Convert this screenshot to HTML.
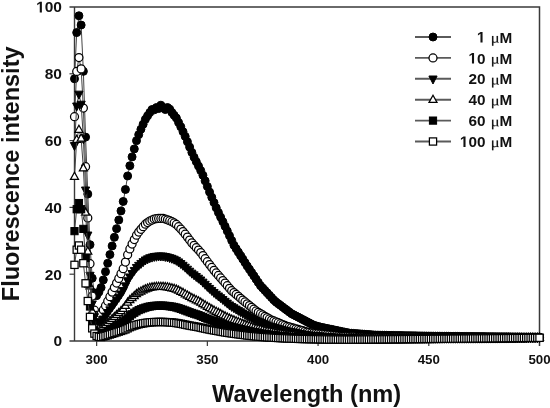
<!DOCTYPE html>
<html><head><meta charset="utf-8"><style>
html,body{margin:0;padding:0;background:#fff;}
body{width:550px;height:408px;overflow:hidden;position:relative;font-family:"Liberation Sans",sans-serif;}
svg{position:absolute;left:0;top:0;will-change:transform;}
.t{font-family:"Liberation Sans",sans-serif;font-weight:bold;fill:#111;}
.mu{font-family:"Liberation Serif",serif;font-weight:normal;font-size:16.5px;stroke:#111;stroke-width:0.4px;}
</style></head><body>
<svg width="550" height="408" viewBox="0 0 550 408">
<path d="M69.5 7.0H539.5V346.0" fill="none" stroke="#3a3a3a" stroke-width="1.5"/>
<path d="M74.5 7.0V341.0" fill="none" stroke="#3a3a3a" stroke-width="1.4"/>
<path d="M69.5 341.0H539.5" fill="none" stroke="#3a3a3a" stroke-width="1.6"/>
<path d="M69.5 274.20H74.5" stroke="#3a3a3a" stroke-width="1.2"/>
<path d="M69.5 207.40H74.5" stroke="#3a3a3a" stroke-width="1.2"/>
<path d="M69.5 140.60H74.5" stroke="#3a3a3a" stroke-width="1.2"/>
<path d="M69.5 73.80H74.5" stroke="#3a3a3a" stroke-width="1.2"/>
<path d="M96.64 341.0V346.0" stroke="#3a3a3a" stroke-width="1.2"/>
<path d="M207.36 341.0V346.0" stroke="#3a3a3a" stroke-width="1.2"/>
<path d="M318.07 341.0V346.0" stroke="#3a3a3a" stroke-width="1.2"/>
<path d="M428.79 341.0V346.0" stroke="#3a3a3a" stroke-width="1.2"/>
<g class="t" font-size="15.5" text-anchor="end">
<text x="62" y="346.4">0</text>
<text x="62" y="279.6">20</text>
<text x="62" y="212.8">40</text>
<text x="62" y="146.0">60</text>
<text x="62" y="79.2">80</text>
<text x="62" y="12.4"><tspan fill="transparent">1</tspan>00</text>
</g>
<g class="t" font-size="13.3" text-anchor="middle">
<text x="96.6" y="363.8">300</text>
<text x="207.4" y="363.8">350</text>
<text x="318.1" y="363.8">400</text>
<text x="428.8" y="363.8">450</text>
<text x="539.5" y="363.8">500</text>
</g>
<text class="t" font-size="23.6" x="306.6" y="401.7" text-anchor="middle">Wavelength (nm)</text>
<text class="t" font-size="23.5" transform="translate(18.9,173.8) rotate(-90)" text-anchor="middle">Fluorescence intensity</text>
<g><polyline points="74.50,78.81 76.71,32.59 78.93,15.78 81.14,25.04 83.36,71.36 85.57,137.12 87.79,194.05 90.00,244.66 92.21,278.21 94.43,292.88 96.64,295.63 98.86,292.08 101.07,287.58 103.29,279.95 105.50,271.70 107.71,263.25 109.93,254.60 112.14,245.96 114.36,237.31 116.57,228.67 118.79,220.03 121.00,210.89 123.21,201.46 125.43,189.49 127.64,175.94 129.86,165.72 132.07,156.88 134.29,148.92 136.50,140.64 138.71,134.64 140.93,129.24 143.14,124.28 145.36,119.35 147.57,115.87 149.79,112.55 152.00,109.54 154.21,109.87 156.43,107.53 158.64,108.54 160.86,105.20 163.07,107.53 165.29,109.54 167.50,107.53 169.71,109.20 171.93,112.51 174.14,115.29 176.36,118.04 178.57,122.46 180.79,126.80 183.00,131.63 185.21,136.40 187.43,141.77 189.64,147.11 191.86,152.42 194.07,157.28 196.29,161.69 198.50,166.10 200.71,170.50 202.93,175.27 205.14,180.87 207.36,186.47 209.57,192.08 211.79,197.33 214.00,202.58 216.21,207.83 218.43,212.60 220.64,217.15 222.86,221.70 225.07,226.33 227.29,231.05 229.50,235.78 231.71,240.51 233.93,245.24 236.14,248.70 238.36,252.17 240.57,255.64 242.79,259.10 245.00,262.57 247.21,266.04 249.43,269.31 251.64,272.59 253.86,275.86 256.07,279.13 258.29,282.41 260.50,285.68 262.71,288.07 264.93,290.45 267.14,292.83 269.36,295.21 271.57,297.59 273.79,299.98 276.00,302.00 278.21,303.66 280.43,305.33 282.64,306.99 284.86,308.66 287.07,310.32 289.29,311.99 291.50,313.65 293.71,314.81 295.93,315.96 298.14,317.12 300.36,318.27 302.57,319.43 304.79,320.58 307.00,321.74 309.21,322.89 311.43,324.05 313.64,325.21 315.86,325.82 318.07,326.44 320.29,327.05 322.50,327.52 324.71,327.98 326.93,328.44 329.14,328.90 331.36,329.37 333.57,329.83 335.79,330.29 338.00,330.75 340.21,331.22 342.43,331.68 344.64,332.14 346.86,332.60 349.07,333.06 351.29,333.23 353.50,333.40 355.71,333.57 357.93,333.73 360.14,333.90 362.36,334.07 364.57,334.24 366.79,334.40 369.00,334.57 371.21,334.74 373.43,334.91 375.64,335.07 377.86,335.12 380.07,335.16 382.29,335.20 384.50,335.24 386.71,335.29 388.93,335.33 391.14,335.37 393.36,335.41 395.57,335.46 397.79,335.50 400.00,335.54 402.21,335.58 404.43,335.63 406.64,335.67 408.86,335.71 411.07,335.75 413.29,335.79 415.50,335.84 417.71,335.88 419.93,335.92 422.14,335.96 424.36,336.01 426.57,336.05 428.79,336.09 431.00,336.11 433.21,336.13 435.43,336.16 437.64,336.18 439.86,336.20 442.07,336.22 444.29,336.24 446.50,336.26 448.71,336.28 450.93,336.30 453.14,336.32 455.36,336.35 457.57,336.37 459.79,336.39 462.00,336.41 464.21,336.43 466.43,336.45 468.64,336.47 470.86,336.49 473.07,336.52 475.29,336.54 477.50,336.56 479.71,336.58 481.93,336.60 484.14,336.62 486.36,336.64 488.57,336.66 490.79,336.68 493.00,336.71 495.21,336.73 497.43,336.75 499.64,336.77 501.86,336.79 504.07,336.81 506.29,336.83 508.50,336.85 510.71,336.88 512.93,336.90 515.14,336.92 517.36,336.94 519.57,336.96 521.79,336.98 524.00,337.00 526.21,337.02 528.43,337.04 530.64,337.07 532.86,337.09 535.07,337.11 537.29,337.13 539.50,337.15" fill="none" stroke="#444" stroke-width="1"/><circle cx="74.50" cy="78.81" r="4.00" fill="#000" stroke="#000" stroke-width="1.0"/><circle cx="76.71" cy="32.59" r="4.00" fill="#000" stroke="#000" stroke-width="1.0"/><circle cx="78.93" cy="15.78" r="4.00" fill="#000" stroke="#000" stroke-width="1.0"/><circle cx="81.14" cy="25.04" r="4.00" fill="#000" stroke="#000" stroke-width="1.0"/><circle cx="83.36" cy="71.36" r="4.00" fill="#000" stroke="#000" stroke-width="1.0"/><circle cx="85.57" cy="137.12" r="4.00" fill="#000" stroke="#000" stroke-width="1.0"/><circle cx="87.79" cy="194.05" r="4.00" fill="#000" stroke="#000" stroke-width="1.0"/><circle cx="90.00" cy="244.66" r="4.00" fill="#000" stroke="#000" stroke-width="1.0"/><circle cx="92.21" cy="278.21" r="4.00" fill="#000" stroke="#000" stroke-width="1.0"/><circle cx="94.43" cy="292.88" r="4.00" fill="#000" stroke="#000" stroke-width="1.0"/><circle cx="96.64" cy="295.63" r="4.00" fill="#000" stroke="#000" stroke-width="1.0"/><circle cx="98.86" cy="292.08" r="4.00" fill="#000" stroke="#000" stroke-width="1.0"/><circle cx="101.07" cy="287.58" r="4.00" fill="#000" stroke="#000" stroke-width="1.0"/><circle cx="103.29" cy="279.95" r="4.00" fill="#000" stroke="#000" stroke-width="1.0"/><circle cx="105.50" cy="271.70" r="4.00" fill="#000" stroke="#000" stroke-width="1.0"/><circle cx="107.71" cy="263.25" r="4.00" fill="#000" stroke="#000" stroke-width="1.0"/><circle cx="109.93" cy="254.60" r="4.00" fill="#000" stroke="#000" stroke-width="1.0"/><circle cx="112.14" cy="245.96" r="4.00" fill="#000" stroke="#000" stroke-width="1.0"/><circle cx="114.36" cy="237.31" r="4.00" fill="#000" stroke="#000" stroke-width="1.0"/><circle cx="116.57" cy="228.67" r="4.00" fill="#000" stroke="#000" stroke-width="1.0"/><circle cx="118.79" cy="220.03" r="4.00" fill="#000" stroke="#000" stroke-width="1.0"/><circle cx="121.00" cy="210.89" r="4.00" fill="#000" stroke="#000" stroke-width="1.0"/><circle cx="123.21" cy="201.46" r="4.00" fill="#000" stroke="#000" stroke-width="1.0"/><circle cx="125.43" cy="189.49" r="4.00" fill="#000" stroke="#000" stroke-width="1.0"/><circle cx="127.64" cy="175.94" r="4.00" fill="#000" stroke="#000" stroke-width="1.0"/><circle cx="129.86" cy="165.72" r="4.00" fill="#000" stroke="#000" stroke-width="1.0"/><circle cx="132.07" cy="156.88" r="4.00" fill="#000" stroke="#000" stroke-width="1.0"/><circle cx="134.29" cy="148.92" r="4.00" fill="#000" stroke="#000" stroke-width="1.0"/><circle cx="136.50" cy="140.64" r="4.00" fill="#000" stroke="#000" stroke-width="1.0"/><circle cx="138.71" cy="134.64" r="4.00" fill="#000" stroke="#000" stroke-width="1.0"/><circle cx="140.93" cy="129.24" r="4.00" fill="#000" stroke="#000" stroke-width="1.0"/><circle cx="143.14" cy="124.28" r="4.00" fill="#000" stroke="#000" stroke-width="1.0"/><circle cx="145.36" cy="119.35" r="4.00" fill="#000" stroke="#000" stroke-width="1.0"/><circle cx="147.57" cy="115.87" r="4.00" fill="#000" stroke="#000" stroke-width="1.0"/><circle cx="149.79" cy="112.55" r="4.00" fill="#000" stroke="#000" stroke-width="1.0"/><circle cx="152.00" cy="109.54" r="4.00" fill="#000" stroke="#000" stroke-width="1.0"/><circle cx="154.21" cy="109.87" r="4.00" fill="#000" stroke="#000" stroke-width="1.0"/><circle cx="156.43" cy="107.53" r="4.00" fill="#000" stroke="#000" stroke-width="1.0"/><circle cx="158.64" cy="108.54" r="4.00" fill="#000" stroke="#000" stroke-width="1.0"/><circle cx="160.86" cy="105.20" r="4.00" fill="#000" stroke="#000" stroke-width="1.0"/><circle cx="163.07" cy="107.53" r="4.00" fill="#000" stroke="#000" stroke-width="1.0"/><circle cx="165.29" cy="109.54" r="4.00" fill="#000" stroke="#000" stroke-width="1.0"/><circle cx="167.50" cy="107.53" r="4.00" fill="#000" stroke="#000" stroke-width="1.0"/><circle cx="169.71" cy="109.20" r="4.00" fill="#000" stroke="#000" stroke-width="1.0"/><circle cx="171.93" cy="112.51" r="4.00" fill="#000" stroke="#000" stroke-width="1.0"/><circle cx="174.14" cy="115.29" r="4.00" fill="#000" stroke="#000" stroke-width="1.0"/><circle cx="176.36" cy="118.04" r="4.00" fill="#000" stroke="#000" stroke-width="1.0"/><circle cx="178.57" cy="122.46" r="4.00" fill="#000" stroke="#000" stroke-width="1.0"/><circle cx="180.79" cy="126.80" r="4.00" fill="#000" stroke="#000" stroke-width="1.0"/><circle cx="183.00" cy="131.63" r="4.00" fill="#000" stroke="#000" stroke-width="1.0"/><circle cx="185.21" cy="136.40" r="4.00" fill="#000" stroke="#000" stroke-width="1.0"/><circle cx="187.43" cy="141.77" r="4.00" fill="#000" stroke="#000" stroke-width="1.0"/><circle cx="189.64" cy="147.11" r="4.00" fill="#000" stroke="#000" stroke-width="1.0"/><circle cx="191.86" cy="152.42" r="4.00" fill="#000" stroke="#000" stroke-width="1.0"/><circle cx="194.07" cy="157.28" r="4.00" fill="#000" stroke="#000" stroke-width="1.0"/><circle cx="196.29" cy="161.69" r="4.00" fill="#000" stroke="#000" stroke-width="1.0"/><circle cx="198.50" cy="166.10" r="4.00" fill="#000" stroke="#000" stroke-width="1.0"/><circle cx="200.71" cy="170.50" r="4.00" fill="#000" stroke="#000" stroke-width="1.0"/><circle cx="202.93" cy="175.27" r="4.00" fill="#000" stroke="#000" stroke-width="1.0"/><circle cx="205.14" cy="180.87" r="4.00" fill="#000" stroke="#000" stroke-width="1.0"/><circle cx="207.36" cy="186.47" r="4.00" fill="#000" stroke="#000" stroke-width="1.0"/><circle cx="209.57" cy="192.08" r="4.00" fill="#000" stroke="#000" stroke-width="1.0"/><circle cx="211.79" cy="197.33" r="4.00" fill="#000" stroke="#000" stroke-width="1.0"/><circle cx="214.00" cy="202.58" r="4.00" fill="#000" stroke="#000" stroke-width="1.0"/><circle cx="216.21" cy="207.83" r="4.00" fill="#000" stroke="#000" stroke-width="1.0"/><circle cx="218.43" cy="212.60" r="4.00" fill="#000" stroke="#000" stroke-width="1.0"/><circle cx="220.64" cy="217.15" r="4.00" fill="#000" stroke="#000" stroke-width="1.0"/><circle cx="222.86" cy="221.70" r="4.00" fill="#000" stroke="#000" stroke-width="1.0"/><circle cx="225.07" cy="226.33" r="4.00" fill="#000" stroke="#000" stroke-width="1.0"/><circle cx="227.29" cy="231.05" r="4.00" fill="#000" stroke="#000" stroke-width="1.0"/><circle cx="229.50" cy="235.78" r="4.00" fill="#000" stroke="#000" stroke-width="1.0"/><circle cx="231.71" cy="240.51" r="4.00" fill="#000" stroke="#000" stroke-width="1.0"/><circle cx="233.93" cy="245.24" r="4.00" fill="#000" stroke="#000" stroke-width="1.0"/><circle cx="236.14" cy="248.70" r="4.00" fill="#000" stroke="#000" stroke-width="1.0"/><circle cx="238.36" cy="252.17" r="4.00" fill="#000" stroke="#000" stroke-width="1.0"/><circle cx="240.57" cy="255.64" r="4.00" fill="#000" stroke="#000" stroke-width="1.0"/><circle cx="242.79" cy="259.10" r="4.00" fill="#000" stroke="#000" stroke-width="1.0"/><circle cx="245.00" cy="262.57" r="4.00" fill="#000" stroke="#000" stroke-width="1.0"/><circle cx="247.21" cy="266.04" r="4.00" fill="#000" stroke="#000" stroke-width="1.0"/><circle cx="249.43" cy="269.31" r="4.00" fill="#000" stroke="#000" stroke-width="1.0"/><circle cx="251.64" cy="272.59" r="4.00" fill="#000" stroke="#000" stroke-width="1.0"/><circle cx="253.86" cy="275.86" r="4.00" fill="#000" stroke="#000" stroke-width="1.0"/><circle cx="256.07" cy="279.13" r="4.00" fill="#000" stroke="#000" stroke-width="1.0"/><circle cx="258.29" cy="282.41" r="4.00" fill="#000" stroke="#000" stroke-width="1.0"/><circle cx="260.50" cy="285.68" r="4.00" fill="#000" stroke="#000" stroke-width="1.0"/><circle cx="262.71" cy="288.07" r="4.00" fill="#000" stroke="#000" stroke-width="1.0"/><circle cx="264.93" cy="290.45" r="4.00" fill="#000" stroke="#000" stroke-width="1.0"/><circle cx="267.14" cy="292.83" r="4.00" fill="#000" stroke="#000" stroke-width="1.0"/><circle cx="269.36" cy="295.21" r="4.00" fill="#000" stroke="#000" stroke-width="1.0"/><circle cx="271.57" cy="297.59" r="4.00" fill="#000" stroke="#000" stroke-width="1.0"/><circle cx="273.79" cy="299.98" r="4.00" fill="#000" stroke="#000" stroke-width="1.0"/><circle cx="276.00" cy="302.00" r="4.00" fill="#000" stroke="#000" stroke-width="1.0"/><circle cx="278.21" cy="303.66" r="4.00" fill="#000" stroke="#000" stroke-width="1.0"/><circle cx="280.43" cy="305.33" r="4.00" fill="#000" stroke="#000" stroke-width="1.0"/><circle cx="282.64" cy="306.99" r="4.00" fill="#000" stroke="#000" stroke-width="1.0"/><circle cx="284.86" cy="308.66" r="4.00" fill="#000" stroke="#000" stroke-width="1.0"/><circle cx="287.07" cy="310.32" r="4.00" fill="#000" stroke="#000" stroke-width="1.0"/><circle cx="289.29" cy="311.99" r="4.00" fill="#000" stroke="#000" stroke-width="1.0"/><circle cx="291.50" cy="313.65" r="4.00" fill="#000" stroke="#000" stroke-width="1.0"/><circle cx="293.71" cy="314.81" r="4.00" fill="#000" stroke="#000" stroke-width="1.0"/><circle cx="295.93" cy="315.96" r="4.00" fill="#000" stroke="#000" stroke-width="1.0"/><circle cx="298.14" cy="317.12" r="4.00" fill="#000" stroke="#000" stroke-width="1.0"/><circle cx="300.36" cy="318.27" r="4.00" fill="#000" stroke="#000" stroke-width="1.0"/><circle cx="302.57" cy="319.43" r="4.00" fill="#000" stroke="#000" stroke-width="1.0"/><circle cx="304.79" cy="320.58" r="4.00" fill="#000" stroke="#000" stroke-width="1.0"/><circle cx="307.00" cy="321.74" r="4.00" fill="#000" stroke="#000" stroke-width="1.0"/><circle cx="309.21" cy="322.89" r="4.00" fill="#000" stroke="#000" stroke-width="1.0"/><circle cx="311.43" cy="324.05" r="4.00" fill="#000" stroke="#000" stroke-width="1.0"/><circle cx="313.64" cy="325.21" r="4.00" fill="#000" stroke="#000" stroke-width="1.0"/><circle cx="315.86" cy="325.82" r="4.00" fill="#000" stroke="#000" stroke-width="1.0"/><circle cx="318.07" cy="326.44" r="4.00" fill="#000" stroke="#000" stroke-width="1.0"/><circle cx="320.29" cy="327.05" r="4.00" fill="#000" stroke="#000" stroke-width="1.0"/><circle cx="322.50" cy="327.52" r="4.00" fill="#000" stroke="#000" stroke-width="1.0"/><circle cx="324.71" cy="327.98" r="4.00" fill="#000" stroke="#000" stroke-width="1.0"/><circle cx="326.93" cy="328.44" r="4.00" fill="#000" stroke="#000" stroke-width="1.0"/><circle cx="329.14" cy="328.90" r="4.00" fill="#000" stroke="#000" stroke-width="1.0"/><circle cx="331.36" cy="329.37" r="4.00" fill="#000" stroke="#000" stroke-width="1.0"/><circle cx="333.57" cy="329.83" r="4.00" fill="#000" stroke="#000" stroke-width="1.0"/><circle cx="335.79" cy="330.29" r="4.00" fill="#000" stroke="#000" stroke-width="1.0"/><circle cx="338.00" cy="330.75" r="4.00" fill="#000" stroke="#000" stroke-width="1.0"/><circle cx="340.21" cy="331.22" r="4.00" fill="#000" stroke="#000" stroke-width="1.0"/><circle cx="342.43" cy="331.68" r="4.00" fill="#000" stroke="#000" stroke-width="1.0"/><circle cx="344.64" cy="332.14" r="4.00" fill="#000" stroke="#000" stroke-width="1.0"/><circle cx="346.86" cy="332.60" r="4.00" fill="#000" stroke="#000" stroke-width="1.0"/><circle cx="349.07" cy="333.06" r="4.00" fill="#000" stroke="#000" stroke-width="1.0"/><circle cx="351.29" cy="333.23" r="4.00" fill="#000" stroke="#000" stroke-width="1.0"/><circle cx="353.50" cy="333.40" r="4.00" fill="#000" stroke="#000" stroke-width="1.0"/><circle cx="355.71" cy="333.57" r="4.00" fill="#000" stroke="#000" stroke-width="1.0"/><circle cx="357.93" cy="333.73" r="4.00" fill="#000" stroke="#000" stroke-width="1.0"/><circle cx="360.14" cy="333.90" r="4.00" fill="#000" stroke="#000" stroke-width="1.0"/><circle cx="362.36" cy="334.07" r="4.00" fill="#000" stroke="#000" stroke-width="1.0"/><circle cx="364.57" cy="334.24" r="4.00" fill="#000" stroke="#000" stroke-width="1.0"/><circle cx="366.79" cy="334.40" r="4.00" fill="#000" stroke="#000" stroke-width="1.0"/><circle cx="369.00" cy="334.57" r="4.00" fill="#000" stroke="#000" stroke-width="1.0"/><circle cx="371.21" cy="334.74" r="4.00" fill="#000" stroke="#000" stroke-width="1.0"/><circle cx="373.43" cy="334.91" r="4.00" fill="#000" stroke="#000" stroke-width="1.0"/><circle cx="375.64" cy="335.07" r="4.00" fill="#000" stroke="#000" stroke-width="1.0"/><circle cx="377.86" cy="335.12" r="4.00" fill="#000" stroke="#000" stroke-width="1.0"/><circle cx="380.07" cy="335.16" r="4.00" fill="#000" stroke="#000" stroke-width="1.0"/><circle cx="382.29" cy="335.20" r="4.00" fill="#000" stroke="#000" stroke-width="1.0"/><circle cx="384.50" cy="335.24" r="4.00" fill="#000" stroke="#000" stroke-width="1.0"/><circle cx="386.71" cy="335.29" r="4.00" fill="#000" stroke="#000" stroke-width="1.0"/><circle cx="388.93" cy="335.33" r="4.00" fill="#000" stroke="#000" stroke-width="1.0"/><circle cx="391.14" cy="335.37" r="4.00" fill="#000" stroke="#000" stroke-width="1.0"/><circle cx="393.36" cy="335.41" r="4.00" fill="#000" stroke="#000" stroke-width="1.0"/><circle cx="395.57" cy="335.46" r="4.00" fill="#000" stroke="#000" stroke-width="1.0"/><circle cx="397.79" cy="335.50" r="4.00" fill="#000" stroke="#000" stroke-width="1.0"/><circle cx="400.00" cy="335.54" r="4.00" fill="#000" stroke="#000" stroke-width="1.0"/><circle cx="402.21" cy="335.58" r="4.00" fill="#000" stroke="#000" stroke-width="1.0"/><circle cx="404.43" cy="335.63" r="4.00" fill="#000" stroke="#000" stroke-width="1.0"/><circle cx="406.64" cy="335.67" r="4.00" fill="#000" stroke="#000" stroke-width="1.0"/><circle cx="408.86" cy="335.71" r="4.00" fill="#000" stroke="#000" stroke-width="1.0"/><circle cx="411.07" cy="335.75" r="4.00" fill="#000" stroke="#000" stroke-width="1.0"/><circle cx="413.29" cy="335.79" r="4.00" fill="#000" stroke="#000" stroke-width="1.0"/><circle cx="415.50" cy="335.84" r="4.00" fill="#000" stroke="#000" stroke-width="1.0"/><circle cx="417.71" cy="335.88" r="4.00" fill="#000" stroke="#000" stroke-width="1.0"/><circle cx="419.93" cy="335.92" r="4.00" fill="#000" stroke="#000" stroke-width="1.0"/><circle cx="422.14" cy="335.96" r="4.00" fill="#000" stroke="#000" stroke-width="1.0"/><circle cx="424.36" cy="336.01" r="4.00" fill="#000" stroke="#000" stroke-width="1.0"/><circle cx="426.57" cy="336.05" r="4.00" fill="#000" stroke="#000" stroke-width="1.0"/><circle cx="428.79" cy="336.09" r="4.00" fill="#000" stroke="#000" stroke-width="1.0"/><circle cx="431.00" cy="336.11" r="4.00" fill="#000" stroke="#000" stroke-width="1.0"/><circle cx="433.21" cy="336.13" r="4.00" fill="#000" stroke="#000" stroke-width="1.0"/><circle cx="435.43" cy="336.16" r="4.00" fill="#000" stroke="#000" stroke-width="1.0"/><circle cx="437.64" cy="336.18" r="4.00" fill="#000" stroke="#000" stroke-width="1.0"/><circle cx="439.86" cy="336.20" r="4.00" fill="#000" stroke="#000" stroke-width="1.0"/><circle cx="442.07" cy="336.22" r="4.00" fill="#000" stroke="#000" stroke-width="1.0"/><circle cx="444.29" cy="336.24" r="4.00" fill="#000" stroke="#000" stroke-width="1.0"/><circle cx="446.50" cy="336.26" r="4.00" fill="#000" stroke="#000" stroke-width="1.0"/><circle cx="448.71" cy="336.28" r="4.00" fill="#000" stroke="#000" stroke-width="1.0"/><circle cx="450.93" cy="336.30" r="4.00" fill="#000" stroke="#000" stroke-width="1.0"/><circle cx="453.14" cy="336.32" r="4.00" fill="#000" stroke="#000" stroke-width="1.0"/><circle cx="455.36" cy="336.35" r="4.00" fill="#000" stroke="#000" stroke-width="1.0"/><circle cx="457.57" cy="336.37" r="4.00" fill="#000" stroke="#000" stroke-width="1.0"/><circle cx="459.79" cy="336.39" r="4.00" fill="#000" stroke="#000" stroke-width="1.0"/><circle cx="462.00" cy="336.41" r="4.00" fill="#000" stroke="#000" stroke-width="1.0"/><circle cx="464.21" cy="336.43" r="4.00" fill="#000" stroke="#000" stroke-width="1.0"/><circle cx="466.43" cy="336.45" r="4.00" fill="#000" stroke="#000" stroke-width="1.0"/><circle cx="468.64" cy="336.47" r="4.00" fill="#000" stroke="#000" stroke-width="1.0"/><circle cx="470.86" cy="336.49" r="4.00" fill="#000" stroke="#000" stroke-width="1.0"/><circle cx="473.07" cy="336.52" r="4.00" fill="#000" stroke="#000" stroke-width="1.0"/><circle cx="475.29" cy="336.54" r="4.00" fill="#000" stroke="#000" stroke-width="1.0"/><circle cx="477.50" cy="336.56" r="4.00" fill="#000" stroke="#000" stroke-width="1.0"/><circle cx="479.71" cy="336.58" r="4.00" fill="#000" stroke="#000" stroke-width="1.0"/><circle cx="481.93" cy="336.60" r="4.00" fill="#000" stroke="#000" stroke-width="1.0"/><circle cx="484.14" cy="336.62" r="4.00" fill="#000" stroke="#000" stroke-width="1.0"/><circle cx="486.36" cy="336.64" r="4.00" fill="#000" stroke="#000" stroke-width="1.0"/><circle cx="488.57" cy="336.66" r="4.00" fill="#000" stroke="#000" stroke-width="1.0"/><circle cx="490.79" cy="336.68" r="4.00" fill="#000" stroke="#000" stroke-width="1.0"/><circle cx="493.00" cy="336.71" r="4.00" fill="#000" stroke="#000" stroke-width="1.0"/><circle cx="495.21" cy="336.73" r="4.00" fill="#000" stroke="#000" stroke-width="1.0"/><circle cx="497.43" cy="336.75" r="4.00" fill="#000" stroke="#000" stroke-width="1.0"/><circle cx="499.64" cy="336.77" r="4.00" fill="#000" stroke="#000" stroke-width="1.0"/><circle cx="501.86" cy="336.79" r="4.00" fill="#000" stroke="#000" stroke-width="1.0"/><circle cx="504.07" cy="336.81" r="4.00" fill="#000" stroke="#000" stroke-width="1.0"/><circle cx="506.29" cy="336.83" r="4.00" fill="#000" stroke="#000" stroke-width="1.0"/><circle cx="508.50" cy="336.85" r="4.00" fill="#000" stroke="#000" stroke-width="1.0"/><circle cx="510.71" cy="336.88" r="4.00" fill="#000" stroke="#000" stroke-width="1.0"/><circle cx="512.93" cy="336.90" r="4.00" fill="#000" stroke="#000" stroke-width="1.0"/><circle cx="515.14" cy="336.92" r="4.00" fill="#000" stroke="#000" stroke-width="1.0"/><circle cx="517.36" cy="336.94" r="4.00" fill="#000" stroke="#000" stroke-width="1.0"/><circle cx="519.57" cy="336.96" r="4.00" fill="#000" stroke="#000" stroke-width="1.0"/><circle cx="521.79" cy="336.98" r="4.00" fill="#000" stroke="#000" stroke-width="1.0"/><circle cx="524.00" cy="337.00" r="4.00" fill="#000" stroke="#000" stroke-width="1.0"/><circle cx="526.21" cy="337.02" r="4.00" fill="#000" stroke="#000" stroke-width="1.0"/><circle cx="528.43" cy="337.04" r="4.00" fill="#000" stroke="#000" stroke-width="1.0"/><circle cx="530.64" cy="337.07" r="4.00" fill="#000" stroke="#000" stroke-width="1.0"/><circle cx="532.86" cy="337.09" r="4.00" fill="#000" stroke="#000" stroke-width="1.0"/><circle cx="535.07" cy="337.11" r="4.00" fill="#000" stroke="#000" stroke-width="1.0"/><circle cx="537.29" cy="337.13" r="4.00" fill="#000" stroke="#000" stroke-width="1.0"/><circle cx="539.50" cy="337.15" r="4.00" fill="#000" stroke="#000" stroke-width="1.0"/></g>
<g><polyline points="74.50,116.69 76.71,71.45 78.93,57.57 81.14,68.89 83.36,108.07 85.57,166.71 87.79,217.91 90.00,263.67 92.21,296.02 94.43,310.15 96.64,315.48 98.86,315.48 101.07,314.01 103.29,309.99 105.50,305.65 107.71,301.21 109.93,296.66 112.14,292.11 114.36,287.57 116.57,283.02 118.79,278.47 121.00,273.67 123.21,268.71 125.43,262.09 127.64,254.65 129.86,248.96 132.07,244.00 134.29,239.50 136.50,235.16 138.71,232.04 140.93,229.25 143.14,226.71 145.36,224.23 147.57,222.56 149.79,221.01 152.00,220.01 154.21,219.08 156.43,218.74 158.64,218.43 160.86,218.42 163.07,218.45 165.29,219.08 167.50,219.75 169.71,220.70 171.93,221.70 174.14,222.97 176.36,224.49 178.57,226.70 180.79,229.02 183.00,231.55 185.21,234.23 187.43,237.12 189.64,240.01 191.86,242.88 194.07,245.28 196.29,247.69 198.50,250.10 200.71,252.52 202.93,255.59 205.14,258.65 207.36,261.72 209.57,264.62 211.79,267.49 214.00,270.37 216.21,272.98 218.43,275.47 220.64,277.96 222.86,280.50 225.07,283.09 227.29,285.68 229.50,288.26 231.71,290.66 233.93,292.56 236.14,294.46 238.36,296.35 240.57,298.25 242.79,300.15 245.00,301.99 247.21,303.78 249.43,305.57 251.64,307.36 253.86,309.15 256.07,310.95 258.29,312.38 260.50,313.68 262.71,314.99 264.93,316.29 267.14,317.59 269.36,318.90 271.57,320.01 273.79,320.92 276.00,321.83 278.21,322.74 280.43,323.65 282.64,324.56 284.86,325.47 287.07,326.31 289.29,326.94 291.50,327.57 293.71,328.21 295.93,328.84 298.14,329.47 300.36,330.10 302.57,330.73 304.79,331.37 307.00,332.00 309.21,332.44 311.43,332.77 313.64,333.11 315.86,333.38 318.07,333.64 320.29,333.89 322.50,334.14 324.71,334.40 326.93,334.65 329.14,334.90 331.36,335.15 333.57,335.41 335.79,335.66 338.00,335.91 340.21,336.17 342.43,336.38 344.64,336.48 346.86,336.59 349.07,336.70 351.29,336.78 353.50,336.86 355.71,336.94 357.93,337.02 360.14,337.10 362.36,337.18 364.57,337.26 366.79,337.34 369.00,337.37 371.21,337.38 373.43,337.39 375.64,337.40 377.86,337.42 380.07,337.43 382.29,337.44 384.50,337.45 386.71,337.46 388.93,337.47 391.14,337.49 393.36,337.50 395.57,337.51 397.79,337.52 400.00,337.53 402.21,337.55 404.43,337.56 406.64,337.57 408.86,337.58 411.07,337.59 413.29,337.60 415.50,337.62 417.71,337.63 419.93,337.63 422.14,337.63 424.36,337.63 426.57,337.63 428.79,337.63 431.00,337.63 433.21,337.63 435.43,337.63 437.64,337.63 439.86,337.63 442.07,337.63 444.29,337.64 446.50,337.64 448.71,337.64 450.93,337.64 453.14,337.64 455.36,337.64 457.57,337.64 459.79,337.64 462.00,337.64 464.21,337.64 466.43,337.64 468.64,337.64 470.86,337.64 473.07,337.64 475.29,337.64 477.50,337.64 479.71,337.64 481.93,337.64 484.14,337.64 486.36,337.64 488.57,337.64 490.79,337.64 493.00,337.64 495.21,337.64 497.43,337.64 499.64,337.64 501.86,337.64 504.07,337.64 506.29,337.64 508.50,337.64 510.71,337.64 512.93,337.64 515.14,337.64 517.36,337.64 519.57,337.64 521.79,337.64 524.00,337.64 526.21,337.63 528.43,337.60 530.64,337.58 532.86,337.55 535.07,337.53 537.29,337.50 539.50,337.48" fill="none" stroke="#444" stroke-width="1"/><circle cx="74.50" cy="116.69" r="4.00" fill="#fff" stroke="#000" stroke-width="1.25"/><circle cx="76.71" cy="71.45" r="4.00" fill="#fff" stroke="#000" stroke-width="1.25"/><circle cx="78.93" cy="57.57" r="4.00" fill="#fff" stroke="#000" stroke-width="1.25"/><circle cx="81.14" cy="68.89" r="4.00" fill="#fff" stroke="#000" stroke-width="1.25"/><circle cx="83.36" cy="108.07" r="4.00" fill="#fff" stroke="#000" stroke-width="1.25"/><circle cx="85.57" cy="166.71" r="4.00" fill="#fff" stroke="#000" stroke-width="1.25"/><circle cx="87.79" cy="217.91" r="4.00" fill="#fff" stroke="#000" stroke-width="1.25"/><circle cx="90.00" cy="263.67" r="4.00" fill="#fff" stroke="#000" stroke-width="1.25"/><circle cx="92.21" cy="296.02" r="4.00" fill="#fff" stroke="#000" stroke-width="1.25"/><circle cx="94.43" cy="310.15" r="4.00" fill="#fff" stroke="#000" stroke-width="1.25"/><circle cx="96.64" cy="315.48" r="4.00" fill="#fff" stroke="#000" stroke-width="1.25"/><circle cx="98.86" cy="315.48" r="4.00" fill="#fff" stroke="#000" stroke-width="1.25"/><circle cx="101.07" cy="314.01" r="4.00" fill="#fff" stroke="#000" stroke-width="1.25"/><circle cx="103.29" cy="309.99" r="4.00" fill="#fff" stroke="#000" stroke-width="1.25"/><circle cx="105.50" cy="305.65" r="4.00" fill="#fff" stroke="#000" stroke-width="1.25"/><circle cx="107.71" cy="301.21" r="4.00" fill="#fff" stroke="#000" stroke-width="1.25"/><circle cx="109.93" cy="296.66" r="4.00" fill="#fff" stroke="#000" stroke-width="1.25"/><circle cx="112.14" cy="292.11" r="4.00" fill="#fff" stroke="#000" stroke-width="1.25"/><circle cx="114.36" cy="287.57" r="4.00" fill="#fff" stroke="#000" stroke-width="1.25"/><circle cx="116.57" cy="283.02" r="4.00" fill="#fff" stroke="#000" stroke-width="1.25"/><circle cx="118.79" cy="278.47" r="4.00" fill="#fff" stroke="#000" stroke-width="1.25"/><circle cx="121.00" cy="273.67" r="4.00" fill="#fff" stroke="#000" stroke-width="1.25"/><circle cx="123.21" cy="268.71" r="4.00" fill="#fff" stroke="#000" stroke-width="1.25"/><circle cx="125.43" cy="262.09" r="4.00" fill="#fff" stroke="#000" stroke-width="1.25"/><circle cx="127.64" cy="254.65" r="4.00" fill="#fff" stroke="#000" stroke-width="1.25"/><circle cx="129.86" cy="248.96" r="4.00" fill="#fff" stroke="#000" stroke-width="1.25"/><circle cx="132.07" cy="244.00" r="4.00" fill="#fff" stroke="#000" stroke-width="1.25"/><circle cx="134.29" cy="239.50" r="4.00" fill="#fff" stroke="#000" stroke-width="1.25"/><circle cx="136.50" cy="235.16" r="4.00" fill="#fff" stroke="#000" stroke-width="1.25"/><circle cx="138.71" cy="232.04" r="4.00" fill="#fff" stroke="#000" stroke-width="1.25"/><circle cx="140.93" cy="229.25" r="4.00" fill="#fff" stroke="#000" stroke-width="1.25"/><circle cx="143.14" cy="226.71" r="4.00" fill="#fff" stroke="#000" stroke-width="1.25"/><circle cx="145.36" cy="224.23" r="4.00" fill="#fff" stroke="#000" stroke-width="1.25"/><circle cx="147.57" cy="222.56" r="4.00" fill="#fff" stroke="#000" stroke-width="1.25"/><circle cx="149.79" cy="221.01" r="4.00" fill="#fff" stroke="#000" stroke-width="1.25"/><circle cx="152.00" cy="220.01" r="4.00" fill="#fff" stroke="#000" stroke-width="1.25"/><circle cx="154.21" cy="219.08" r="4.00" fill="#fff" stroke="#000" stroke-width="1.25"/><circle cx="156.43" cy="218.74" r="4.00" fill="#fff" stroke="#000" stroke-width="1.25"/><circle cx="158.64" cy="218.43" r="4.00" fill="#fff" stroke="#000" stroke-width="1.25"/><circle cx="160.86" cy="218.42" r="4.00" fill="#fff" stroke="#000" stroke-width="1.25"/><circle cx="163.07" cy="218.45" r="4.00" fill="#fff" stroke="#000" stroke-width="1.25"/><circle cx="165.29" cy="219.08" r="4.00" fill="#fff" stroke="#000" stroke-width="1.25"/><circle cx="167.50" cy="219.75" r="4.00" fill="#fff" stroke="#000" stroke-width="1.25"/><circle cx="169.71" cy="220.70" r="4.00" fill="#fff" stroke="#000" stroke-width="1.25"/><circle cx="171.93" cy="221.70" r="4.00" fill="#fff" stroke="#000" stroke-width="1.25"/><circle cx="174.14" cy="222.97" r="4.00" fill="#fff" stroke="#000" stroke-width="1.25"/><circle cx="176.36" cy="224.49" r="4.00" fill="#fff" stroke="#000" stroke-width="1.25"/><circle cx="178.57" cy="226.70" r="4.00" fill="#fff" stroke="#000" stroke-width="1.25"/><circle cx="180.79" cy="229.02" r="4.00" fill="#fff" stroke="#000" stroke-width="1.25"/><circle cx="183.00" cy="231.55" r="4.00" fill="#fff" stroke="#000" stroke-width="1.25"/><circle cx="185.21" cy="234.23" r="4.00" fill="#fff" stroke="#000" stroke-width="1.25"/><circle cx="187.43" cy="237.12" r="4.00" fill="#fff" stroke="#000" stroke-width="1.25"/><circle cx="189.64" cy="240.01" r="4.00" fill="#fff" stroke="#000" stroke-width="1.25"/><circle cx="191.86" cy="242.88" r="4.00" fill="#fff" stroke="#000" stroke-width="1.25"/><circle cx="194.07" cy="245.28" r="4.00" fill="#fff" stroke="#000" stroke-width="1.25"/><circle cx="196.29" cy="247.69" r="4.00" fill="#fff" stroke="#000" stroke-width="1.25"/><circle cx="198.50" cy="250.10" r="4.00" fill="#fff" stroke="#000" stroke-width="1.25"/><circle cx="200.71" cy="252.52" r="4.00" fill="#fff" stroke="#000" stroke-width="1.25"/><circle cx="202.93" cy="255.59" r="4.00" fill="#fff" stroke="#000" stroke-width="1.25"/><circle cx="205.14" cy="258.65" r="4.00" fill="#fff" stroke="#000" stroke-width="1.25"/><circle cx="207.36" cy="261.72" r="4.00" fill="#fff" stroke="#000" stroke-width="1.25"/><circle cx="209.57" cy="264.62" r="4.00" fill="#fff" stroke="#000" stroke-width="1.25"/><circle cx="211.79" cy="267.49" r="4.00" fill="#fff" stroke="#000" stroke-width="1.25"/><circle cx="214.00" cy="270.37" r="4.00" fill="#fff" stroke="#000" stroke-width="1.25"/><circle cx="216.21" cy="272.98" r="4.00" fill="#fff" stroke="#000" stroke-width="1.25"/><circle cx="218.43" cy="275.47" r="4.00" fill="#fff" stroke="#000" stroke-width="1.25"/><circle cx="220.64" cy="277.96" r="4.00" fill="#fff" stroke="#000" stroke-width="1.25"/><circle cx="222.86" cy="280.50" r="4.00" fill="#fff" stroke="#000" stroke-width="1.25"/><circle cx="225.07" cy="283.09" r="4.00" fill="#fff" stroke="#000" stroke-width="1.25"/><circle cx="227.29" cy="285.68" r="4.00" fill="#fff" stroke="#000" stroke-width="1.25"/><circle cx="229.50" cy="288.26" r="4.00" fill="#fff" stroke="#000" stroke-width="1.25"/><circle cx="231.71" cy="290.66" r="4.00" fill="#fff" stroke="#000" stroke-width="1.25"/><circle cx="233.93" cy="292.56" r="4.00" fill="#fff" stroke="#000" stroke-width="1.25"/><circle cx="236.14" cy="294.46" r="4.00" fill="#fff" stroke="#000" stroke-width="1.25"/><circle cx="238.36" cy="296.35" r="4.00" fill="#fff" stroke="#000" stroke-width="1.25"/><circle cx="240.57" cy="298.25" r="4.00" fill="#fff" stroke="#000" stroke-width="1.25"/><circle cx="242.79" cy="300.15" r="4.00" fill="#fff" stroke="#000" stroke-width="1.25"/><circle cx="245.00" cy="301.99" r="4.00" fill="#fff" stroke="#000" stroke-width="1.25"/><circle cx="247.21" cy="303.78" r="4.00" fill="#fff" stroke="#000" stroke-width="1.25"/><circle cx="249.43" cy="305.57" r="4.00" fill="#fff" stroke="#000" stroke-width="1.25"/><circle cx="251.64" cy="307.36" r="4.00" fill="#fff" stroke="#000" stroke-width="1.25"/><circle cx="253.86" cy="309.15" r="4.00" fill="#fff" stroke="#000" stroke-width="1.25"/><circle cx="256.07" cy="310.95" r="4.00" fill="#fff" stroke="#000" stroke-width="1.25"/><circle cx="258.29" cy="312.38" r="4.00" fill="#fff" stroke="#000" stroke-width="1.25"/><circle cx="260.50" cy="313.68" r="4.00" fill="#fff" stroke="#000" stroke-width="1.25"/><circle cx="262.71" cy="314.99" r="4.00" fill="#fff" stroke="#000" stroke-width="1.25"/><circle cx="264.93" cy="316.29" r="4.00" fill="#fff" stroke="#000" stroke-width="1.25"/><circle cx="267.14" cy="317.59" r="4.00" fill="#fff" stroke="#000" stroke-width="1.25"/><circle cx="269.36" cy="318.90" r="4.00" fill="#fff" stroke="#000" stroke-width="1.25"/><circle cx="271.57" cy="320.01" r="4.00" fill="#fff" stroke="#000" stroke-width="1.25"/><circle cx="273.79" cy="320.92" r="4.00" fill="#fff" stroke="#000" stroke-width="1.25"/><circle cx="276.00" cy="321.83" r="4.00" fill="#fff" stroke="#000" stroke-width="1.25"/><circle cx="278.21" cy="322.74" r="4.00" fill="#fff" stroke="#000" stroke-width="1.25"/><circle cx="280.43" cy="323.65" r="4.00" fill="#fff" stroke="#000" stroke-width="1.25"/><circle cx="282.64" cy="324.56" r="4.00" fill="#fff" stroke="#000" stroke-width="1.25"/><circle cx="284.86" cy="325.47" r="4.00" fill="#fff" stroke="#000" stroke-width="1.25"/><circle cx="287.07" cy="326.31" r="4.00" fill="#fff" stroke="#000" stroke-width="1.25"/><circle cx="289.29" cy="326.94" r="4.00" fill="#fff" stroke="#000" stroke-width="1.25"/><circle cx="291.50" cy="327.57" r="4.00" fill="#fff" stroke="#000" stroke-width="1.25"/><circle cx="293.71" cy="328.21" r="4.00" fill="#fff" stroke="#000" stroke-width="1.25"/><circle cx="295.93" cy="328.84" r="4.00" fill="#fff" stroke="#000" stroke-width="1.25"/><circle cx="298.14" cy="329.47" r="4.00" fill="#fff" stroke="#000" stroke-width="1.25"/><circle cx="300.36" cy="330.10" r="4.00" fill="#fff" stroke="#000" stroke-width="1.25"/><circle cx="302.57" cy="330.73" r="4.00" fill="#fff" stroke="#000" stroke-width="1.25"/><circle cx="304.79" cy="331.37" r="4.00" fill="#fff" stroke="#000" stroke-width="1.25"/><circle cx="307.00" cy="332.00" r="4.00" fill="#fff" stroke="#000" stroke-width="1.25"/><circle cx="309.21" cy="332.44" r="4.00" fill="#fff" stroke="#000" stroke-width="1.25"/><circle cx="311.43" cy="332.77" r="4.00" fill="#fff" stroke="#000" stroke-width="1.25"/><circle cx="313.64" cy="333.11" r="4.00" fill="#fff" stroke="#000" stroke-width="1.25"/><circle cx="315.86" cy="333.38" r="4.00" fill="#fff" stroke="#000" stroke-width="1.25"/><circle cx="318.07" cy="333.64" r="4.00" fill="#fff" stroke="#000" stroke-width="1.25"/><circle cx="320.29" cy="333.89" r="4.00" fill="#fff" stroke="#000" stroke-width="1.25"/><circle cx="322.50" cy="334.14" r="4.00" fill="#fff" stroke="#000" stroke-width="1.25"/><circle cx="324.71" cy="334.40" r="4.00" fill="#fff" stroke="#000" stroke-width="1.25"/><circle cx="326.93" cy="334.65" r="4.00" fill="#fff" stroke="#000" stroke-width="1.25"/><circle cx="329.14" cy="334.90" r="4.00" fill="#fff" stroke="#000" stroke-width="1.25"/><circle cx="331.36" cy="335.15" r="4.00" fill="#fff" stroke="#000" stroke-width="1.25"/><circle cx="333.57" cy="335.41" r="4.00" fill="#fff" stroke="#000" stroke-width="1.25"/><circle cx="335.79" cy="335.66" r="4.00" fill="#fff" stroke="#000" stroke-width="1.25"/><circle cx="338.00" cy="335.91" r="4.00" fill="#fff" stroke="#000" stroke-width="1.25"/><circle cx="340.21" cy="336.17" r="4.00" fill="#fff" stroke="#000" stroke-width="1.25"/><circle cx="342.43" cy="336.38" r="4.00" fill="#fff" stroke="#000" stroke-width="1.25"/><circle cx="344.64" cy="336.48" r="4.00" fill="#fff" stroke="#000" stroke-width="1.25"/><circle cx="346.86" cy="336.59" r="4.00" fill="#fff" stroke="#000" stroke-width="1.25"/><circle cx="349.07" cy="336.70" r="4.00" fill="#fff" stroke="#000" stroke-width="1.25"/><circle cx="351.29" cy="336.78" r="4.00" fill="#fff" stroke="#000" stroke-width="1.25"/><circle cx="353.50" cy="336.86" r="4.00" fill="#fff" stroke="#000" stroke-width="1.25"/><circle cx="355.71" cy="336.94" r="4.00" fill="#fff" stroke="#000" stroke-width="1.25"/><circle cx="357.93" cy="337.02" r="4.00" fill="#fff" stroke="#000" stroke-width="1.25"/><circle cx="360.14" cy="337.10" r="4.00" fill="#fff" stroke="#000" stroke-width="1.25"/><circle cx="362.36" cy="337.18" r="4.00" fill="#fff" stroke="#000" stroke-width="1.25"/><circle cx="364.57" cy="337.26" r="4.00" fill="#fff" stroke="#000" stroke-width="1.25"/><circle cx="366.79" cy="337.34" r="4.00" fill="#fff" stroke="#000" stroke-width="1.25"/><circle cx="369.00" cy="337.37" r="4.00" fill="#fff" stroke="#000" stroke-width="1.25"/><circle cx="371.21" cy="337.38" r="4.00" fill="#fff" stroke="#000" stroke-width="1.25"/><circle cx="373.43" cy="337.39" r="4.00" fill="#fff" stroke="#000" stroke-width="1.25"/><circle cx="375.64" cy="337.40" r="4.00" fill="#fff" stroke="#000" stroke-width="1.25"/><circle cx="377.86" cy="337.42" r="4.00" fill="#fff" stroke="#000" stroke-width="1.25"/><circle cx="380.07" cy="337.43" r="4.00" fill="#fff" stroke="#000" stroke-width="1.25"/><circle cx="382.29" cy="337.44" r="4.00" fill="#fff" stroke="#000" stroke-width="1.25"/><circle cx="384.50" cy="337.45" r="4.00" fill="#fff" stroke="#000" stroke-width="1.25"/><circle cx="386.71" cy="337.46" r="4.00" fill="#fff" stroke="#000" stroke-width="1.25"/><circle cx="388.93" cy="337.47" r="4.00" fill="#fff" stroke="#000" stroke-width="1.25"/><circle cx="391.14" cy="337.49" r="4.00" fill="#fff" stroke="#000" stroke-width="1.25"/><circle cx="393.36" cy="337.50" r="4.00" fill="#fff" stroke="#000" stroke-width="1.25"/><circle cx="395.57" cy="337.51" r="4.00" fill="#fff" stroke="#000" stroke-width="1.25"/><circle cx="397.79" cy="337.52" r="4.00" fill="#fff" stroke="#000" stroke-width="1.25"/><circle cx="400.00" cy="337.53" r="4.00" fill="#fff" stroke="#000" stroke-width="1.25"/><circle cx="402.21" cy="337.55" r="4.00" fill="#fff" stroke="#000" stroke-width="1.25"/><circle cx="404.43" cy="337.56" r="4.00" fill="#fff" stroke="#000" stroke-width="1.25"/><circle cx="406.64" cy="337.57" r="4.00" fill="#fff" stroke="#000" stroke-width="1.25"/><circle cx="408.86" cy="337.58" r="4.00" fill="#fff" stroke="#000" stroke-width="1.25"/><circle cx="411.07" cy="337.59" r="4.00" fill="#fff" stroke="#000" stroke-width="1.25"/><circle cx="413.29" cy="337.60" r="4.00" fill="#fff" stroke="#000" stroke-width="1.25"/><circle cx="415.50" cy="337.62" r="4.00" fill="#fff" stroke="#000" stroke-width="1.25"/><circle cx="417.71" cy="337.63" r="4.00" fill="#fff" stroke="#000" stroke-width="1.25"/><circle cx="419.93" cy="337.63" r="4.00" fill="#fff" stroke="#000" stroke-width="1.25"/><circle cx="422.14" cy="337.63" r="4.00" fill="#fff" stroke="#000" stroke-width="1.25"/><circle cx="424.36" cy="337.63" r="4.00" fill="#fff" stroke="#000" stroke-width="1.25"/><circle cx="426.57" cy="337.63" r="4.00" fill="#fff" stroke="#000" stroke-width="1.25"/><circle cx="428.79" cy="337.63" r="4.00" fill="#fff" stroke="#000" stroke-width="1.25"/><circle cx="431.00" cy="337.63" r="4.00" fill="#fff" stroke="#000" stroke-width="1.25"/><circle cx="433.21" cy="337.63" r="4.00" fill="#fff" stroke="#000" stroke-width="1.25"/><circle cx="435.43" cy="337.63" r="4.00" fill="#fff" stroke="#000" stroke-width="1.25"/><circle cx="437.64" cy="337.63" r="4.00" fill="#fff" stroke="#000" stroke-width="1.25"/><circle cx="439.86" cy="337.63" r="4.00" fill="#fff" stroke="#000" stroke-width="1.25"/><circle cx="442.07" cy="337.63" r="4.00" fill="#fff" stroke="#000" stroke-width="1.25"/><circle cx="444.29" cy="337.64" r="4.00" fill="#fff" stroke="#000" stroke-width="1.25"/><circle cx="446.50" cy="337.64" r="4.00" fill="#fff" stroke="#000" stroke-width="1.25"/><circle cx="448.71" cy="337.64" r="4.00" fill="#fff" stroke="#000" stroke-width="1.25"/><circle cx="450.93" cy="337.64" r="4.00" fill="#fff" stroke="#000" stroke-width="1.25"/><circle cx="453.14" cy="337.64" r="4.00" fill="#fff" stroke="#000" stroke-width="1.25"/><circle cx="455.36" cy="337.64" r="4.00" fill="#fff" stroke="#000" stroke-width="1.25"/><circle cx="457.57" cy="337.64" r="4.00" fill="#fff" stroke="#000" stroke-width="1.25"/><circle cx="459.79" cy="337.64" r="4.00" fill="#fff" stroke="#000" stroke-width="1.25"/><circle cx="462.00" cy="337.64" r="4.00" fill="#fff" stroke="#000" stroke-width="1.25"/><circle cx="464.21" cy="337.64" r="4.00" fill="#fff" stroke="#000" stroke-width="1.25"/><circle cx="466.43" cy="337.64" r="4.00" fill="#fff" stroke="#000" stroke-width="1.25"/><circle cx="468.64" cy="337.64" r="4.00" fill="#fff" stroke="#000" stroke-width="1.25"/><circle cx="470.86" cy="337.64" r="4.00" fill="#fff" stroke="#000" stroke-width="1.25"/><circle cx="473.07" cy="337.64" r="4.00" fill="#fff" stroke="#000" stroke-width="1.25"/><circle cx="475.29" cy="337.64" r="4.00" fill="#fff" stroke="#000" stroke-width="1.25"/><circle cx="477.50" cy="337.64" r="4.00" fill="#fff" stroke="#000" stroke-width="1.25"/><circle cx="479.71" cy="337.64" r="4.00" fill="#fff" stroke="#000" stroke-width="1.25"/><circle cx="481.93" cy="337.64" r="4.00" fill="#fff" stroke="#000" stroke-width="1.25"/><circle cx="484.14" cy="337.64" r="4.00" fill="#fff" stroke="#000" stroke-width="1.25"/><circle cx="486.36" cy="337.64" r="4.00" fill="#fff" stroke="#000" stroke-width="1.25"/><circle cx="488.57" cy="337.64" r="4.00" fill="#fff" stroke="#000" stroke-width="1.25"/><circle cx="490.79" cy="337.64" r="4.00" fill="#fff" stroke="#000" stroke-width="1.25"/><circle cx="493.00" cy="337.64" r="4.00" fill="#fff" stroke="#000" stroke-width="1.25"/><circle cx="495.21" cy="337.64" r="4.00" fill="#fff" stroke="#000" stroke-width="1.25"/><circle cx="497.43" cy="337.64" r="4.00" fill="#fff" stroke="#000" stroke-width="1.25"/><circle cx="499.64" cy="337.64" r="4.00" fill="#fff" stroke="#000" stroke-width="1.25"/><circle cx="501.86" cy="337.64" r="4.00" fill="#fff" stroke="#000" stroke-width="1.25"/><circle cx="504.07" cy="337.64" r="4.00" fill="#fff" stroke="#000" stroke-width="1.25"/><circle cx="506.29" cy="337.64" r="4.00" fill="#fff" stroke="#000" stroke-width="1.25"/><circle cx="508.50" cy="337.64" r="4.00" fill="#fff" stroke="#000" stroke-width="1.25"/><circle cx="510.71" cy="337.64" r="4.00" fill="#fff" stroke="#000" stroke-width="1.25"/><circle cx="512.93" cy="337.64" r="4.00" fill="#fff" stroke="#000" stroke-width="1.25"/><circle cx="515.14" cy="337.64" r="4.00" fill="#fff" stroke="#000" stroke-width="1.25"/><circle cx="517.36" cy="337.64" r="4.00" fill="#fff" stroke="#000" stroke-width="1.25"/><circle cx="519.57" cy="337.64" r="4.00" fill="#fff" stroke="#000" stroke-width="1.25"/><circle cx="521.79" cy="337.64" r="4.00" fill="#fff" stroke="#000" stroke-width="1.25"/><circle cx="524.00" cy="337.64" r="4.00" fill="#fff" stroke="#000" stroke-width="1.25"/><circle cx="526.21" cy="337.63" r="4.00" fill="#fff" stroke="#000" stroke-width="1.25"/><circle cx="528.43" cy="337.60" r="4.00" fill="#fff" stroke="#000" stroke-width="1.25"/><circle cx="530.64" cy="337.58" r="4.00" fill="#fff" stroke="#000" stroke-width="1.25"/><circle cx="532.86" cy="337.55" r="4.00" fill="#fff" stroke="#000" stroke-width="1.25"/><circle cx="535.07" cy="337.53" r="4.00" fill="#fff" stroke="#000" stroke-width="1.25"/><circle cx="537.29" cy="337.50" r="4.00" fill="#fff" stroke="#000" stroke-width="1.25"/><circle cx="539.50" cy="337.48" r="4.00" fill="#fff" stroke="#000" stroke-width="1.25"/></g>
<g><polyline points="74.50,145.36 76.71,105.83 78.93,93.96 81.14,104.03 83.36,138.46 85.57,189.82 87.79,234.84 90.00,275.10 92.21,303.75 94.43,316.50 96.64,321.71 98.86,322.27 101.07,321.66 103.29,318.84 105.50,315.85 107.71,312.77 109.93,309.64 112.14,306.51 114.36,303.38 116.57,300.24 118.79,297.11 121.00,293.77 123.21,290.36 125.43,285.66 127.64,280.53 129.86,276.74 132.07,273.32 134.29,270.25 136.50,267.26 138.71,265.16 140.93,263.24 143.14,261.50 145.36,259.79 147.57,258.66 149.79,257.59 152.00,256.92 154.21,256.28 156.43,256.05 158.64,255.83 160.86,255.83 163.07,255.85 165.29,256.29 167.50,256.77 169.71,257.43 171.93,258.14 174.14,259.03 176.36,260.13 178.57,261.68 180.79,263.32 183.00,265.09 185.21,266.99 187.43,269.01 189.64,271.03 191.86,272.98 194.07,274.67 196.29,276.35 198.50,278.03 200.71,279.81 202.93,281.95 205.14,284.09 207.36,286.23 209.57,288.23 211.79,290.24 214.00,292.25 216.21,294.02 218.43,295.76 220.64,297.50 222.86,299.29 225.07,301.10 227.29,302.91 229.50,304.71 231.71,306.25 233.93,307.57 236.14,308.90 238.36,310.22 240.57,311.55 242.79,312.87 245.00,314.14 247.21,315.39 249.43,316.64 251.64,317.89 253.86,319.15 256.07,320.35 258.29,321.26 260.50,322.17 262.71,323.08 264.93,323.99 267.14,324.90 269.36,325.81 271.57,326.46 273.79,327.10 276.00,327.74 278.21,328.37 280.43,329.01 282.64,329.65 284.86,330.28 287.07,330.76 289.29,331.20 291.50,331.64 293.71,332.09 295.93,332.53 298.14,332.97 300.36,333.41 302.57,333.85 304.79,334.30 307.00,334.68 309.21,334.91 311.43,335.15 313.64,335.36 315.86,335.54 318.07,335.71 320.29,335.89 322.50,336.07 324.71,336.24 326.93,336.42 329.14,336.60 331.36,336.77 333.57,336.95 335.79,337.13 338.00,337.30 340.21,337.48 342.43,337.55 344.64,337.62 346.86,337.70 349.07,337.77 351.29,337.82 353.50,337.87 355.71,337.92 357.93,337.97 360.14,338.01 362.36,338.06 364.57,338.11 366.79,338.13 369.00,338.13 371.21,338.13 373.43,338.13 375.64,338.13 377.86,338.13 380.07,338.13 382.29,338.14 384.50,338.14 386.71,338.14 388.93,338.14 391.14,338.14 393.36,338.14 395.57,338.14 397.79,338.14 400.00,338.14 402.21,338.14 404.43,338.14 406.64,338.14 408.86,338.14 411.07,338.14 413.29,338.15 415.50,338.15 417.71,338.14 419.93,338.13 422.14,338.13 424.36,338.12 426.57,338.11 428.79,338.10 431.00,338.10 433.21,338.09 435.43,338.08 437.64,338.07 439.86,338.07 442.07,338.06 444.29,338.05 446.50,338.04 448.71,338.04 450.93,338.03 453.14,338.02 455.36,338.02 457.57,338.01 459.79,338.00 462.00,337.99 464.21,337.99 466.43,337.98 468.64,337.97 470.86,337.96 473.07,337.96 475.29,337.95 477.50,337.94 479.71,337.93 481.93,337.93 484.14,337.92 486.36,337.91 488.57,337.90 490.79,337.90 493.00,337.89 495.21,337.88 497.43,337.88 499.64,337.87 501.86,337.86 504.07,337.85 506.29,337.85 508.50,337.84 510.71,337.83 512.93,337.82 515.14,337.82 517.36,337.81 519.57,337.80 521.79,337.79 524.00,337.77 526.21,337.74 528.43,337.72 530.64,337.69 532.86,337.67 535.07,337.64 537.29,337.62 539.50,337.59" fill="none" stroke="#444" stroke-width="1"/><path d="M70.40 142.56L78.60 142.56L74.50 150.56Z" fill="#000" stroke="#000" stroke-width="1.0"/><path d="M72.61 103.03L80.81 103.03L76.71 111.03Z" fill="#000" stroke="#000" stroke-width="1.0"/><path d="M74.83 91.16L83.03 91.16L78.93 99.16Z" fill="#000" stroke="#000" stroke-width="1.0"/><path d="M77.04 101.23L85.24 101.23L81.14 109.23Z" fill="#000" stroke="#000" stroke-width="1.0"/><path d="M79.26 135.66L87.46 135.66L83.36 143.66Z" fill="#000" stroke="#000" stroke-width="1.0"/><path d="M81.47 187.02L89.67 187.02L85.57 195.02Z" fill="#000" stroke="#000" stroke-width="1.0"/><path d="M83.69 232.04L91.89 232.04L87.79 240.04Z" fill="#000" stroke="#000" stroke-width="1.0"/><path d="M85.90 272.30L94.10 272.30L90.00 280.30Z" fill="#000" stroke="#000" stroke-width="1.0"/><path d="M88.11 300.95L96.31 300.95L92.21 308.95Z" fill="#000" stroke="#000" stroke-width="1.0"/><path d="M90.33 313.70L98.53 313.70L94.43 321.70Z" fill="#000" stroke="#000" stroke-width="1.0"/><path d="M92.54 318.91L100.74 318.91L96.64 326.91Z" fill="#000" stroke="#000" stroke-width="1.0"/><path d="M94.76 319.47L102.96 319.47L98.86 327.47Z" fill="#000" stroke="#000" stroke-width="1.0"/><path d="M96.97 318.86L105.17 318.86L101.07 326.86Z" fill="#000" stroke="#000" stroke-width="1.0"/><path d="M99.19 316.04L107.39 316.04L103.29 324.04Z" fill="#000" stroke="#000" stroke-width="1.0"/><path d="M101.40 313.05L109.60 313.05L105.50 321.05Z" fill="#000" stroke="#000" stroke-width="1.0"/><path d="M103.61 309.97L111.81 309.97L107.71 317.97Z" fill="#000" stroke="#000" stroke-width="1.0"/><path d="M105.83 306.84L114.03 306.84L109.93 314.84Z" fill="#000" stroke="#000" stroke-width="1.0"/><path d="M108.04 303.71L116.24 303.71L112.14 311.71Z" fill="#000" stroke="#000" stroke-width="1.0"/><path d="M110.26 300.58L118.46 300.58L114.36 308.58Z" fill="#000" stroke="#000" stroke-width="1.0"/><path d="M112.47 297.44L120.67 297.44L116.57 305.44Z" fill="#000" stroke="#000" stroke-width="1.0"/><path d="M114.69 294.31L122.89 294.31L118.79 302.31Z" fill="#000" stroke="#000" stroke-width="1.0"/><path d="M116.90 290.97L125.10 290.97L121.00 298.97Z" fill="#000" stroke="#000" stroke-width="1.0"/><path d="M119.11 287.56L127.31 287.56L123.21 295.56Z" fill="#000" stroke="#000" stroke-width="1.0"/><path d="M121.33 282.86L129.53 282.86L125.43 290.86Z" fill="#000" stroke="#000" stroke-width="1.0"/><path d="M123.54 277.73L131.74 277.73L127.64 285.73Z" fill="#000" stroke="#000" stroke-width="1.0"/><path d="M125.76 273.94L133.96 273.94L129.86 281.94Z" fill="#000" stroke="#000" stroke-width="1.0"/><path d="M127.97 270.52L136.17 270.52L132.07 278.52Z" fill="#000" stroke="#000" stroke-width="1.0"/><path d="M130.19 267.45L138.39 267.45L134.29 275.45Z" fill="#000" stroke="#000" stroke-width="1.0"/><path d="M132.40 264.46L140.60 264.46L136.50 272.46Z" fill="#000" stroke="#000" stroke-width="1.0"/><path d="M134.61 262.36L142.81 262.36L138.71 270.36Z" fill="#000" stroke="#000" stroke-width="1.0"/><path d="M136.83 260.44L145.03 260.44L140.93 268.44Z" fill="#000" stroke="#000" stroke-width="1.0"/><path d="M139.04 258.70L147.24 258.70L143.14 266.70Z" fill="#000" stroke="#000" stroke-width="1.0"/><path d="M141.26 256.99L149.46 256.99L145.36 264.99Z" fill="#000" stroke="#000" stroke-width="1.0"/><path d="M143.47 255.86L151.67 255.86L147.57 263.86Z" fill="#000" stroke="#000" stroke-width="1.0"/><path d="M145.69 254.79L153.89 254.79L149.79 262.79Z" fill="#000" stroke="#000" stroke-width="1.0"/><path d="M147.90 254.12L156.10 254.12L152.00 262.12Z" fill="#000" stroke="#000" stroke-width="1.0"/><path d="M150.11 253.48L158.31 253.48L154.21 261.48Z" fill="#000" stroke="#000" stroke-width="1.0"/><path d="M152.33 253.25L160.53 253.25L156.43 261.25Z" fill="#000" stroke="#000" stroke-width="1.0"/><path d="M154.54 253.03L162.74 253.03L158.64 261.03Z" fill="#000" stroke="#000" stroke-width="1.0"/><path d="M156.76 253.03L164.96 253.03L160.86 261.03Z" fill="#000" stroke="#000" stroke-width="1.0"/><path d="M158.97 253.05L167.17 253.05L163.07 261.05Z" fill="#000" stroke="#000" stroke-width="1.0"/><path d="M161.19 253.49L169.39 253.49L165.29 261.49Z" fill="#000" stroke="#000" stroke-width="1.0"/><path d="M163.40 253.97L171.60 253.97L167.50 261.97Z" fill="#000" stroke="#000" stroke-width="1.0"/><path d="M165.61 254.63L173.81 254.63L169.71 262.63Z" fill="#000" stroke="#000" stroke-width="1.0"/><path d="M167.83 255.34L176.03 255.34L171.93 263.34Z" fill="#000" stroke="#000" stroke-width="1.0"/><path d="M170.04 256.23L178.24 256.23L174.14 264.23Z" fill="#000" stroke="#000" stroke-width="1.0"/><path d="M172.26 257.33L180.46 257.33L176.36 265.33Z" fill="#000" stroke="#000" stroke-width="1.0"/><path d="M174.47 258.88L182.67 258.88L178.57 266.88Z" fill="#000" stroke="#000" stroke-width="1.0"/><path d="M176.69 260.52L184.89 260.52L180.79 268.52Z" fill="#000" stroke="#000" stroke-width="1.0"/><path d="M178.90 262.29L187.10 262.29L183.00 270.29Z" fill="#000" stroke="#000" stroke-width="1.0"/><path d="M181.11 264.19L189.31 264.19L185.21 272.19Z" fill="#000" stroke="#000" stroke-width="1.0"/><path d="M183.33 266.21L191.53 266.21L187.43 274.21Z" fill="#000" stroke="#000" stroke-width="1.0"/><path d="M185.54 268.23L193.74 268.23L189.64 276.23Z" fill="#000" stroke="#000" stroke-width="1.0"/><path d="M187.76 270.18L195.96 270.18L191.86 278.18Z" fill="#000" stroke="#000" stroke-width="1.0"/><path d="M189.97 271.87L198.17 271.87L194.07 279.87Z" fill="#000" stroke="#000" stroke-width="1.0"/><path d="M192.19 273.55L200.39 273.55L196.29 281.55Z" fill="#000" stroke="#000" stroke-width="1.0"/><path d="M194.40 275.23L202.60 275.23L198.50 283.23Z" fill="#000" stroke="#000" stroke-width="1.0"/><path d="M196.61 277.01L204.81 277.01L200.71 285.01Z" fill="#000" stroke="#000" stroke-width="1.0"/><path d="M198.83 279.15L207.03 279.15L202.93 287.15Z" fill="#000" stroke="#000" stroke-width="1.0"/><path d="M201.04 281.29L209.24 281.29L205.14 289.29Z" fill="#000" stroke="#000" stroke-width="1.0"/><path d="M203.26 283.43L211.46 283.43L207.36 291.43Z" fill="#000" stroke="#000" stroke-width="1.0"/><path d="M205.47 285.43L213.67 285.43L209.57 293.43Z" fill="#000" stroke="#000" stroke-width="1.0"/><path d="M207.69 287.44L215.89 287.44L211.79 295.44Z" fill="#000" stroke="#000" stroke-width="1.0"/><path d="M209.90 289.45L218.10 289.45L214.00 297.45Z" fill="#000" stroke="#000" stroke-width="1.0"/><path d="M212.11 291.22L220.31 291.22L216.21 299.22Z" fill="#000" stroke="#000" stroke-width="1.0"/><path d="M214.33 292.96L222.53 292.96L218.43 300.96Z" fill="#000" stroke="#000" stroke-width="1.0"/><path d="M216.54 294.70L224.74 294.70L220.64 302.70Z" fill="#000" stroke="#000" stroke-width="1.0"/><path d="M218.76 296.49L226.96 296.49L222.86 304.49Z" fill="#000" stroke="#000" stroke-width="1.0"/><path d="M220.97 298.30L229.17 298.30L225.07 306.30Z" fill="#000" stroke="#000" stroke-width="1.0"/><path d="M223.19 300.11L231.39 300.11L227.29 308.11Z" fill="#000" stroke="#000" stroke-width="1.0"/><path d="M225.40 301.91L233.60 301.91L229.50 309.91Z" fill="#000" stroke="#000" stroke-width="1.0"/><path d="M227.61 303.45L235.81 303.45L231.71 311.45Z" fill="#000" stroke="#000" stroke-width="1.0"/><path d="M229.83 304.77L238.03 304.77L233.93 312.77Z" fill="#000" stroke="#000" stroke-width="1.0"/><path d="M232.04 306.10L240.24 306.10L236.14 314.10Z" fill="#000" stroke="#000" stroke-width="1.0"/><path d="M234.26 307.42L242.46 307.42L238.36 315.42Z" fill="#000" stroke="#000" stroke-width="1.0"/><path d="M236.47 308.75L244.67 308.75L240.57 316.75Z" fill="#000" stroke="#000" stroke-width="1.0"/><path d="M238.69 310.07L246.89 310.07L242.79 318.07Z" fill="#000" stroke="#000" stroke-width="1.0"/><path d="M240.90 311.34L249.10 311.34L245.00 319.34Z" fill="#000" stroke="#000" stroke-width="1.0"/><path d="M243.11 312.59L251.31 312.59L247.21 320.59Z" fill="#000" stroke="#000" stroke-width="1.0"/><path d="M245.33 313.84L253.53 313.84L249.43 321.84Z" fill="#000" stroke="#000" stroke-width="1.0"/><path d="M247.54 315.09L255.74 315.09L251.64 323.09Z" fill="#000" stroke="#000" stroke-width="1.0"/><path d="M249.76 316.35L257.96 316.35L253.86 324.35Z" fill="#000" stroke="#000" stroke-width="1.0"/><path d="M251.97 317.55L260.17 317.55L256.07 325.55Z" fill="#000" stroke="#000" stroke-width="1.0"/><path d="M254.19 318.46L262.39 318.46L258.29 326.46Z" fill="#000" stroke="#000" stroke-width="1.0"/><path d="M256.40 319.37L264.60 319.37L260.50 327.37Z" fill="#000" stroke="#000" stroke-width="1.0"/><path d="M258.61 320.28L266.81 320.28L262.71 328.28Z" fill="#000" stroke="#000" stroke-width="1.0"/><path d="M260.83 321.19L269.03 321.19L264.93 329.19Z" fill="#000" stroke="#000" stroke-width="1.0"/><path d="M263.04 322.10L271.24 322.10L267.14 330.10Z" fill="#000" stroke="#000" stroke-width="1.0"/><path d="M265.26 323.01L273.46 323.01L269.36 331.01Z" fill="#000" stroke="#000" stroke-width="1.0"/><path d="M267.47 323.66L275.67 323.66L271.57 331.66Z" fill="#000" stroke="#000" stroke-width="1.0"/><path d="M269.69 324.30L277.89 324.30L273.79 332.30Z" fill="#000" stroke="#000" stroke-width="1.0"/><path d="M271.90 324.94L280.10 324.94L276.00 332.94Z" fill="#000" stroke="#000" stroke-width="1.0"/><path d="M274.11 325.57L282.31 325.57L278.21 333.57Z" fill="#000" stroke="#000" stroke-width="1.0"/><path d="M276.33 326.21L284.53 326.21L280.43 334.21Z" fill="#000" stroke="#000" stroke-width="1.0"/><path d="M278.54 326.85L286.74 326.85L282.64 334.85Z" fill="#000" stroke="#000" stroke-width="1.0"/><path d="M280.76 327.48L288.96 327.48L284.86 335.48Z" fill="#000" stroke="#000" stroke-width="1.0"/><path d="M282.97 327.96L291.17 327.96L287.07 335.96Z" fill="#000" stroke="#000" stroke-width="1.0"/><path d="M285.19 328.40L293.39 328.40L289.29 336.40Z" fill="#000" stroke="#000" stroke-width="1.0"/><path d="M287.40 328.84L295.60 328.84L291.50 336.84Z" fill="#000" stroke="#000" stroke-width="1.0"/><path d="M289.61 329.29L297.81 329.29L293.71 337.29Z" fill="#000" stroke="#000" stroke-width="1.0"/><path d="M291.83 329.73L300.03 329.73L295.93 337.73Z" fill="#000" stroke="#000" stroke-width="1.0"/><path d="M294.04 330.17L302.24 330.17L298.14 338.17Z" fill="#000" stroke="#000" stroke-width="1.0"/><path d="M296.26 330.61L304.46 330.61L300.36 338.61Z" fill="#000" stroke="#000" stroke-width="1.0"/><path d="M298.47 331.05L306.67 331.05L302.57 339.05Z" fill="#000" stroke="#000" stroke-width="1.0"/><path d="M300.69 331.50L308.89 331.50L304.79 339.50Z" fill="#000" stroke="#000" stroke-width="1.0"/><path d="M302.90 331.88L311.10 331.88L307.00 339.88Z" fill="#000" stroke="#000" stroke-width="1.0"/><path d="M305.11 332.11L313.31 332.11L309.21 340.11Z" fill="#000" stroke="#000" stroke-width="1.0"/><path d="M307.33 332.35L315.53 332.35L311.43 340.35Z" fill="#000" stroke="#000" stroke-width="1.0"/><path d="M309.54 332.56L317.74 332.56L313.64 340.56Z" fill="#000" stroke="#000" stroke-width="1.0"/><path d="M311.76 332.74L319.96 332.74L315.86 340.74Z" fill="#000" stroke="#000" stroke-width="1.0"/><path d="M313.97 332.91L322.17 332.91L318.07 340.91Z" fill="#000" stroke="#000" stroke-width="1.0"/><path d="M316.19 333.09L324.39 333.09L320.29 341.09Z" fill="#000" stroke="#000" stroke-width="1.0"/><path d="M318.40 333.27L326.60 333.27L322.50 341.27Z" fill="#000" stroke="#000" stroke-width="1.0"/><path d="M320.61 333.44L328.81 333.44L324.71 341.44Z" fill="#000" stroke="#000" stroke-width="1.0"/><path d="M322.83 333.62L331.03 333.62L326.93 341.62Z" fill="#000" stroke="#000" stroke-width="1.0"/><path d="M325.04 333.80L333.24 333.80L329.14 341.80Z" fill="#000" stroke="#000" stroke-width="1.0"/><path d="M327.26 333.97L335.46 333.97L331.36 341.97Z" fill="#000" stroke="#000" stroke-width="1.0"/><path d="M329.47 334.15L337.67 334.15L333.57 342.15Z" fill="#000" stroke="#000" stroke-width="1.0"/><path d="M331.69 334.33L339.89 334.33L335.79 342.33Z" fill="#000" stroke="#000" stroke-width="1.0"/><path d="M333.90 334.50L342.10 334.50L338.00 342.50Z" fill="#000" stroke="#000" stroke-width="1.0"/><path d="M336.11 334.68L344.31 334.68L340.21 342.68Z" fill="#000" stroke="#000" stroke-width="1.0"/><path d="M338.33 334.75L346.53 334.75L342.43 342.75Z" fill="#000" stroke="#000" stroke-width="1.0"/><path d="M340.54 334.82L348.74 334.82L344.64 342.82Z" fill="#000" stroke="#000" stroke-width="1.0"/><path d="M342.76 334.90L350.96 334.90L346.86 342.90Z" fill="#000" stroke="#000" stroke-width="1.0"/><path d="M344.97 334.97L353.17 334.97L349.07 342.97Z" fill="#000" stroke="#000" stroke-width="1.0"/><path d="M347.19 335.02L355.39 335.02L351.29 343.02Z" fill="#000" stroke="#000" stroke-width="1.0"/><path d="M349.40 335.07L357.60 335.07L353.50 343.07Z" fill="#000" stroke="#000" stroke-width="1.0"/><path d="M351.61 335.12L359.81 335.12L355.71 343.12Z" fill="#000" stroke="#000" stroke-width="1.0"/><path d="M353.83 335.17L362.03 335.17L357.93 343.17Z" fill="#000" stroke="#000" stroke-width="1.0"/><path d="M356.04 335.21L364.24 335.21L360.14 343.21Z" fill="#000" stroke="#000" stroke-width="1.0"/><path d="M358.26 335.26L366.46 335.26L362.36 343.26Z" fill="#000" stroke="#000" stroke-width="1.0"/><path d="M360.47 335.31L368.67 335.31L364.57 343.31Z" fill="#000" stroke="#000" stroke-width="1.0"/><path d="M362.69 335.33L370.89 335.33L366.79 343.33Z" fill="#000" stroke="#000" stroke-width="1.0"/><path d="M364.90 335.33L373.10 335.33L369.00 343.33Z" fill="#000" stroke="#000" stroke-width="1.0"/><path d="M367.11 335.33L375.31 335.33L371.21 343.33Z" fill="#000" stroke="#000" stroke-width="1.0"/><path d="M369.33 335.33L377.53 335.33L373.43 343.33Z" fill="#000" stroke="#000" stroke-width="1.0"/><path d="M371.54 335.33L379.74 335.33L375.64 343.33Z" fill="#000" stroke="#000" stroke-width="1.0"/><path d="M373.76 335.33L381.96 335.33L377.86 343.33Z" fill="#000" stroke="#000" stroke-width="1.0"/><path d="M375.97 335.33L384.17 335.33L380.07 343.33Z" fill="#000" stroke="#000" stroke-width="1.0"/><path d="M378.19 335.34L386.39 335.34L382.29 343.34Z" fill="#000" stroke="#000" stroke-width="1.0"/><path d="M380.40 335.34L388.60 335.34L384.50 343.34Z" fill="#000" stroke="#000" stroke-width="1.0"/><path d="M382.61 335.34L390.81 335.34L386.71 343.34Z" fill="#000" stroke="#000" stroke-width="1.0"/><path d="M384.83 335.34L393.03 335.34L388.93 343.34Z" fill="#000" stroke="#000" stroke-width="1.0"/><path d="M387.04 335.34L395.24 335.34L391.14 343.34Z" fill="#000" stroke="#000" stroke-width="1.0"/><path d="M389.26 335.34L397.46 335.34L393.36 343.34Z" fill="#000" stroke="#000" stroke-width="1.0"/><path d="M391.47 335.34L399.67 335.34L395.57 343.34Z" fill="#000" stroke="#000" stroke-width="1.0"/><path d="M393.69 335.34L401.89 335.34L397.79 343.34Z" fill="#000" stroke="#000" stroke-width="1.0"/><path d="M395.90 335.34L404.10 335.34L400.00 343.34Z" fill="#000" stroke="#000" stroke-width="1.0"/><path d="M398.11 335.34L406.31 335.34L402.21 343.34Z" fill="#000" stroke="#000" stroke-width="1.0"/><path d="M400.33 335.34L408.53 335.34L404.43 343.34Z" fill="#000" stroke="#000" stroke-width="1.0"/><path d="M402.54 335.34L410.74 335.34L406.64 343.34Z" fill="#000" stroke="#000" stroke-width="1.0"/><path d="M404.76 335.34L412.96 335.34L408.86 343.34Z" fill="#000" stroke="#000" stroke-width="1.0"/><path d="M406.97 335.34L415.17 335.34L411.07 343.34Z" fill="#000" stroke="#000" stroke-width="1.0"/><path d="M409.19 335.35L417.39 335.35L413.29 343.35Z" fill="#000" stroke="#000" stroke-width="1.0"/><path d="M411.40 335.35L419.60 335.35L415.50 343.35Z" fill="#000" stroke="#000" stroke-width="1.0"/><path d="M413.61 335.34L421.81 335.34L417.71 343.34Z" fill="#000" stroke="#000" stroke-width="1.0"/><path d="M415.83 335.33L424.03 335.33L419.93 343.33Z" fill="#000" stroke="#000" stroke-width="1.0"/><path d="M418.04 335.33L426.24 335.33L422.14 343.33Z" fill="#000" stroke="#000" stroke-width="1.0"/><path d="M420.26 335.32L428.46 335.32L424.36 343.32Z" fill="#000" stroke="#000" stroke-width="1.0"/><path d="M422.47 335.31L430.67 335.31L426.57 343.31Z" fill="#000" stroke="#000" stroke-width="1.0"/><path d="M424.69 335.30L432.89 335.30L428.79 343.30Z" fill="#000" stroke="#000" stroke-width="1.0"/><path d="M426.90 335.30L435.10 335.30L431.00 343.30Z" fill="#000" stroke="#000" stroke-width="1.0"/><path d="M429.11 335.29L437.31 335.29L433.21 343.29Z" fill="#000" stroke="#000" stroke-width="1.0"/><path d="M431.33 335.28L439.53 335.28L435.43 343.28Z" fill="#000" stroke="#000" stroke-width="1.0"/><path d="M433.54 335.27L441.74 335.27L437.64 343.27Z" fill="#000" stroke="#000" stroke-width="1.0"/><path d="M435.76 335.27L443.96 335.27L439.86 343.27Z" fill="#000" stroke="#000" stroke-width="1.0"/><path d="M437.97 335.26L446.17 335.26L442.07 343.26Z" fill="#000" stroke="#000" stroke-width="1.0"/><path d="M440.19 335.25L448.39 335.25L444.29 343.25Z" fill="#000" stroke="#000" stroke-width="1.0"/><path d="M442.40 335.24L450.60 335.24L446.50 343.24Z" fill="#000" stroke="#000" stroke-width="1.0"/><path d="M444.61 335.24L452.81 335.24L448.71 343.24Z" fill="#000" stroke="#000" stroke-width="1.0"/><path d="M446.83 335.23L455.03 335.23L450.93 343.23Z" fill="#000" stroke="#000" stroke-width="1.0"/><path d="M449.04 335.22L457.24 335.22L453.14 343.22Z" fill="#000" stroke="#000" stroke-width="1.0"/><path d="M451.26 335.22L459.46 335.22L455.36 343.22Z" fill="#000" stroke="#000" stroke-width="1.0"/><path d="M453.47 335.21L461.67 335.21L457.57 343.21Z" fill="#000" stroke="#000" stroke-width="1.0"/><path d="M455.69 335.20L463.89 335.20L459.79 343.20Z" fill="#000" stroke="#000" stroke-width="1.0"/><path d="M457.90 335.19L466.10 335.19L462.00 343.19Z" fill="#000" stroke="#000" stroke-width="1.0"/><path d="M460.11 335.19L468.31 335.19L464.21 343.19Z" fill="#000" stroke="#000" stroke-width="1.0"/><path d="M462.33 335.18L470.53 335.18L466.43 343.18Z" fill="#000" stroke="#000" stroke-width="1.0"/><path d="M464.54 335.17L472.74 335.17L468.64 343.17Z" fill="#000" stroke="#000" stroke-width="1.0"/><path d="M466.76 335.16L474.96 335.16L470.86 343.16Z" fill="#000" stroke="#000" stroke-width="1.0"/><path d="M468.97 335.16L477.17 335.16L473.07 343.16Z" fill="#000" stroke="#000" stroke-width="1.0"/><path d="M471.19 335.15L479.39 335.15L475.29 343.15Z" fill="#000" stroke="#000" stroke-width="1.0"/><path d="M473.40 335.14L481.60 335.14L477.50 343.14Z" fill="#000" stroke="#000" stroke-width="1.0"/><path d="M475.61 335.13L483.81 335.13L479.71 343.13Z" fill="#000" stroke="#000" stroke-width="1.0"/><path d="M477.83 335.13L486.03 335.13L481.93 343.13Z" fill="#000" stroke="#000" stroke-width="1.0"/><path d="M480.04 335.12L488.24 335.12L484.14 343.12Z" fill="#000" stroke="#000" stroke-width="1.0"/><path d="M482.26 335.11L490.46 335.11L486.36 343.11Z" fill="#000" stroke="#000" stroke-width="1.0"/><path d="M484.47 335.10L492.67 335.10L488.57 343.10Z" fill="#000" stroke="#000" stroke-width="1.0"/><path d="M486.69 335.10L494.89 335.10L490.79 343.10Z" fill="#000" stroke="#000" stroke-width="1.0"/><path d="M488.90 335.09L497.10 335.09L493.00 343.09Z" fill="#000" stroke="#000" stroke-width="1.0"/><path d="M491.11 335.08L499.31 335.08L495.21 343.08Z" fill="#000" stroke="#000" stroke-width="1.0"/><path d="M493.33 335.08L501.53 335.08L497.43 343.08Z" fill="#000" stroke="#000" stroke-width="1.0"/><path d="M495.54 335.07L503.74 335.07L499.64 343.07Z" fill="#000" stroke="#000" stroke-width="1.0"/><path d="M497.76 335.06L505.96 335.06L501.86 343.06Z" fill="#000" stroke="#000" stroke-width="1.0"/><path d="M499.97 335.05L508.17 335.05L504.07 343.05Z" fill="#000" stroke="#000" stroke-width="1.0"/><path d="M502.19 335.05L510.39 335.05L506.29 343.05Z" fill="#000" stroke="#000" stroke-width="1.0"/><path d="M504.40 335.04L512.60 335.04L508.50 343.04Z" fill="#000" stroke="#000" stroke-width="1.0"/><path d="M506.61 335.03L514.81 335.03L510.71 343.03Z" fill="#000" stroke="#000" stroke-width="1.0"/><path d="M508.83 335.02L517.03 335.02L512.93 343.02Z" fill="#000" stroke="#000" stroke-width="1.0"/><path d="M511.04 335.02L519.24 335.02L515.14 343.02Z" fill="#000" stroke="#000" stroke-width="1.0"/><path d="M513.26 335.01L521.46 335.01L517.36 343.01Z" fill="#000" stroke="#000" stroke-width="1.0"/><path d="M515.47 335.00L523.67 335.00L519.57 343.00Z" fill="#000" stroke="#000" stroke-width="1.0"/><path d="M517.69 334.99L525.89 334.99L521.79 342.99Z" fill="#000" stroke="#000" stroke-width="1.0"/><path d="M519.90 334.97L528.10 334.97L524.00 342.97Z" fill="#000" stroke="#000" stroke-width="1.0"/><path d="M522.11 334.94L530.31 334.94L526.21 342.94Z" fill="#000" stroke="#000" stroke-width="1.0"/><path d="M524.33 334.92L532.53 334.92L528.43 342.92Z" fill="#000" stroke="#000" stroke-width="1.0"/><path d="M526.54 334.89L534.74 334.89L530.64 342.89Z" fill="#000" stroke="#000" stroke-width="1.0"/><path d="M528.76 334.87L536.96 334.87L532.86 342.87Z" fill="#000" stroke="#000" stroke-width="1.0"/><path d="M530.97 334.84L539.17 334.84L535.07 342.84Z" fill="#000" stroke="#000" stroke-width="1.0"/><path d="M533.19 334.82L541.39 334.82L537.29 342.82Z" fill="#000" stroke="#000" stroke-width="1.0"/><path d="M535.40 334.79L543.60 334.79L539.50 342.79Z" fill="#000" stroke="#000" stroke-width="1.0"/></g>
<g><polyline points="74.50,176.67 76.71,139.56 78.93,129.57 81.14,138.43 83.36,168.16 85.57,212.49 87.79,251.39 90.00,286.26 92.21,311.18 94.43,322.56 96.64,327.49 98.86,328.53 101.07,328.57 103.29,326.81 105.50,324.90 107.71,322.95 109.93,320.95 112.14,318.95 114.36,316.95 116.57,314.95 118.79,312.95 121.00,310.84 123.21,308.66 125.43,305.75 127.64,302.48 129.86,299.98 132.07,297.80 134.29,295.82 136.50,293.92 138.71,292.54 140.93,291.32 143.14,290.20 145.36,289.11 147.57,288.37 149.79,287.69 152.00,287.26 154.21,286.85 156.43,286.70 158.64,286.56 160.86,286.56 163.07,286.58 165.29,286.87 167.50,287.19 169.71,287.62 171.93,288.11 174.14,288.68 176.36,289.49 178.57,290.50 180.79,291.60 183.00,292.76 185.21,294.05 187.43,295.36 189.64,296.68 191.86,297.88 194.07,298.98 196.29,300.08 198.50,301.18 200.71,302.48 202.93,303.88 205.14,305.28 207.36,306.62 209.57,307.93 211.79,309.25 214.00,310.46 216.21,311.59 218.43,312.73 220.64,313.89 222.86,315.07 225.07,316.25 227.29,317.43 229.50,318.47 231.71,319.34 233.93,320.20 236.14,321.07 238.36,321.94 240.57,322.80 242.79,323.62 245.00,324.44 247.21,325.26 249.43,326.08 251.64,326.89 253.86,327.64 256.07,328.23 258.29,328.83 260.50,329.42 262.71,330.02 264.93,330.61 267.14,331.15 269.36,331.57 271.57,331.98 273.79,332.40 276.00,332.81 278.21,333.23 280.43,333.64 282.64,334.01 284.86,334.30 287.07,334.59 289.29,334.88 291.50,335.17 293.71,335.46 295.93,335.74 298.14,336.03 300.36,336.32 302.57,336.59 304.79,336.75 307.00,336.90 309.21,337.04 311.43,337.16 313.64,337.27 315.86,337.39 318.07,337.51 320.29,337.62 322.50,337.74 324.71,337.85 326.93,337.97 329.14,338.08 331.36,338.20 333.57,338.31 335.79,338.41 338.00,338.46 340.21,338.51 342.43,338.55 344.64,338.60 346.86,338.65 349.07,338.70 351.29,338.72 353.50,338.74 355.71,338.77 357.93,338.79 360.14,338.81 362.36,338.80 364.57,338.79 366.79,338.78 369.00,338.77 371.21,338.77 373.43,338.76 375.64,338.75 377.86,338.74 380.07,338.73 382.29,338.72 384.50,338.72 386.71,338.71 388.93,338.70 391.14,338.69 393.36,338.68 395.57,338.68 397.79,338.67 400.00,338.66 402.21,338.65 404.43,338.64 406.64,338.63 408.86,338.63 411.07,338.61 413.29,338.60 415.50,338.59 417.71,338.57 419.93,338.56 422.14,338.55 424.36,338.53 426.57,338.52 428.79,338.50 431.00,338.49 433.21,338.48 435.43,338.46 437.64,338.45 439.86,338.44 442.07,338.42 444.29,338.41 446.50,338.40 448.71,338.38 450.93,338.37 453.14,338.36 455.36,338.34 457.57,338.33 459.79,338.32 462.00,338.30 464.21,338.29 466.43,338.28 468.64,338.26 470.86,338.25 473.07,338.23 475.29,338.22 477.50,338.21 479.71,338.19 481.93,338.18 484.14,338.17 486.36,338.15 488.57,338.14 490.79,338.13 493.00,338.11 495.21,338.10 497.43,338.09 499.64,338.07 501.86,338.06 504.07,338.05 506.29,338.03 508.50,338.02 510.71,338.01 512.93,337.98 515.14,337.96 517.36,337.93 519.57,337.91 521.79,337.88 524.00,337.86 526.21,337.83 528.43,337.81 530.64,337.78 532.86,337.76 535.07,337.73 537.29,337.71 539.50,337.68" fill="none" stroke="#444" stroke-width="1"/><path d="M70.50 179.37L78.50 179.37L74.50 172.27Z" fill="#fff" stroke="#000" stroke-width="1.25"/><path d="M72.71 142.26L80.71 142.26L76.71 135.16Z" fill="#fff" stroke="#000" stroke-width="1.25"/><path d="M74.93 132.27L82.93 132.27L78.93 125.17Z" fill="#fff" stroke="#000" stroke-width="1.25"/><path d="M77.14 141.13L85.14 141.13L81.14 134.03Z" fill="#fff" stroke="#000" stroke-width="1.25"/><path d="M79.36 170.86L87.36 170.86L83.36 163.76Z" fill="#fff" stroke="#000" stroke-width="1.25"/><path d="M81.57 215.19L89.57 215.19L85.57 208.09Z" fill="#fff" stroke="#000" stroke-width="1.25"/><path d="M83.79 254.09L91.79 254.09L87.79 246.99Z" fill="#fff" stroke="#000" stroke-width="1.25"/><path d="M86.00 288.96L94.00 288.96L90.00 281.86Z" fill="#fff" stroke="#000" stroke-width="1.25"/><path d="M88.21 313.88L96.21 313.88L92.21 306.78Z" fill="#fff" stroke="#000" stroke-width="1.25"/><path d="M90.43 325.26L98.43 325.26L94.43 318.16Z" fill="#fff" stroke="#000" stroke-width="1.25"/><path d="M92.64 330.19L100.64 330.19L96.64 323.09Z" fill="#fff" stroke="#000" stroke-width="1.25"/><path d="M94.86 331.23L102.86 331.23L98.86 324.13Z" fill="#fff" stroke="#000" stroke-width="1.25"/><path d="M97.07 331.27L105.07 331.27L101.07 324.17Z" fill="#fff" stroke="#000" stroke-width="1.25"/><path d="M99.29 329.51L107.29 329.51L103.29 322.41Z" fill="#fff" stroke="#000" stroke-width="1.25"/><path d="M101.50 327.60L109.50 327.60L105.50 320.50Z" fill="#fff" stroke="#000" stroke-width="1.25"/><path d="M103.71 325.65L111.71 325.65L107.71 318.55Z" fill="#fff" stroke="#000" stroke-width="1.25"/><path d="M105.93 323.65L113.93 323.65L109.93 316.55Z" fill="#fff" stroke="#000" stroke-width="1.25"/><path d="M108.14 321.65L116.14 321.65L112.14 314.55Z" fill="#fff" stroke="#000" stroke-width="1.25"/><path d="M110.36 319.65L118.36 319.65L114.36 312.55Z" fill="#fff" stroke="#000" stroke-width="1.25"/><path d="M112.57 317.65L120.57 317.65L116.57 310.55Z" fill="#fff" stroke="#000" stroke-width="1.25"/><path d="M114.79 315.65L122.79 315.65L118.79 308.55Z" fill="#fff" stroke="#000" stroke-width="1.25"/><path d="M117.00 313.54L125.00 313.54L121.00 306.44Z" fill="#fff" stroke="#000" stroke-width="1.25"/><path d="M119.21 311.36L127.21 311.36L123.21 304.26Z" fill="#fff" stroke="#000" stroke-width="1.25"/><path d="M121.43 308.45L129.43 308.45L125.43 301.35Z" fill="#fff" stroke="#000" stroke-width="1.25"/><path d="M123.64 305.18L131.64 305.18L127.64 298.08Z" fill="#fff" stroke="#000" stroke-width="1.25"/><path d="M125.86 302.68L133.86 302.68L129.86 295.58Z" fill="#fff" stroke="#000" stroke-width="1.25"/><path d="M128.07 300.50L136.07 300.50L132.07 293.40Z" fill="#fff" stroke="#000" stroke-width="1.25"/><path d="M130.29 298.52L138.29 298.52L134.29 291.42Z" fill="#fff" stroke="#000" stroke-width="1.25"/><path d="M132.50 296.62L140.50 296.62L136.50 289.52Z" fill="#fff" stroke="#000" stroke-width="1.25"/><path d="M134.71 295.24L142.71 295.24L138.71 288.14Z" fill="#fff" stroke="#000" stroke-width="1.25"/><path d="M136.93 294.02L144.93 294.02L140.93 286.92Z" fill="#fff" stroke="#000" stroke-width="1.25"/><path d="M139.14 292.90L147.14 292.90L143.14 285.80Z" fill="#fff" stroke="#000" stroke-width="1.25"/><path d="M141.36 291.81L149.36 291.81L145.36 284.71Z" fill="#fff" stroke="#000" stroke-width="1.25"/><path d="M143.57 291.07L151.57 291.07L147.57 283.97Z" fill="#fff" stroke="#000" stroke-width="1.25"/><path d="M145.79 290.39L153.79 290.39L149.79 283.29Z" fill="#fff" stroke="#000" stroke-width="1.25"/><path d="M148.00 289.96L156.00 289.96L152.00 282.86Z" fill="#fff" stroke="#000" stroke-width="1.25"/><path d="M150.21 289.55L158.21 289.55L154.21 282.45Z" fill="#fff" stroke="#000" stroke-width="1.25"/><path d="M152.43 289.40L160.43 289.40L156.43 282.30Z" fill="#fff" stroke="#000" stroke-width="1.25"/><path d="M154.64 289.26L162.64 289.26L158.64 282.16Z" fill="#fff" stroke="#000" stroke-width="1.25"/><path d="M156.86 289.26L164.86 289.26L160.86 282.16Z" fill="#fff" stroke="#000" stroke-width="1.25"/><path d="M159.07 289.28L167.07 289.28L163.07 282.18Z" fill="#fff" stroke="#000" stroke-width="1.25"/><path d="M161.29 289.57L169.29 289.57L165.29 282.47Z" fill="#fff" stroke="#000" stroke-width="1.25"/><path d="M163.50 289.89L171.50 289.89L167.50 282.79Z" fill="#fff" stroke="#000" stroke-width="1.25"/><path d="M165.71 290.32L173.71 290.32L169.71 283.22Z" fill="#fff" stroke="#000" stroke-width="1.25"/><path d="M167.93 290.81L175.93 290.81L171.93 283.71Z" fill="#fff" stroke="#000" stroke-width="1.25"/><path d="M170.14 291.38L178.14 291.38L174.14 284.28Z" fill="#fff" stroke="#000" stroke-width="1.25"/><path d="M172.36 292.19L180.36 292.19L176.36 285.09Z" fill="#fff" stroke="#000" stroke-width="1.25"/><path d="M174.57 293.20L182.57 293.20L178.57 286.10Z" fill="#fff" stroke="#000" stroke-width="1.25"/><path d="M176.79 294.30L184.79 294.30L180.79 287.20Z" fill="#fff" stroke="#000" stroke-width="1.25"/><path d="M179.00 295.46L187.00 295.46L183.00 288.36Z" fill="#fff" stroke="#000" stroke-width="1.25"/><path d="M181.21 296.75L189.21 296.75L185.21 289.65Z" fill="#fff" stroke="#000" stroke-width="1.25"/><path d="M183.43 298.06L191.43 298.06L187.43 290.96Z" fill="#fff" stroke="#000" stroke-width="1.25"/><path d="M185.64 299.38L193.64 299.38L189.64 292.28Z" fill="#fff" stroke="#000" stroke-width="1.25"/><path d="M187.86 300.58L195.86 300.58L191.86 293.48Z" fill="#fff" stroke="#000" stroke-width="1.25"/><path d="M190.07 301.68L198.07 301.68L194.07 294.58Z" fill="#fff" stroke="#000" stroke-width="1.25"/><path d="M192.29 302.78L200.29 302.78L196.29 295.68Z" fill="#fff" stroke="#000" stroke-width="1.25"/><path d="M194.50 303.88L202.50 303.88L198.50 296.78Z" fill="#fff" stroke="#000" stroke-width="1.25"/><path d="M196.71 305.18L204.71 305.18L200.71 298.08Z" fill="#fff" stroke="#000" stroke-width="1.25"/><path d="M198.93 306.58L206.93 306.58L202.93 299.48Z" fill="#fff" stroke="#000" stroke-width="1.25"/><path d="M201.14 307.98L209.14 307.98L205.14 300.88Z" fill="#fff" stroke="#000" stroke-width="1.25"/><path d="M203.36 309.32L211.36 309.32L207.36 302.22Z" fill="#fff" stroke="#000" stroke-width="1.25"/><path d="M205.57 310.63L213.57 310.63L209.57 303.53Z" fill="#fff" stroke="#000" stroke-width="1.25"/><path d="M207.79 311.95L215.79 311.95L211.79 304.85Z" fill="#fff" stroke="#000" stroke-width="1.25"/><path d="M210.00 313.16L218.00 313.16L214.00 306.06Z" fill="#fff" stroke="#000" stroke-width="1.25"/><path d="M212.21 314.29L220.21 314.29L216.21 307.19Z" fill="#fff" stroke="#000" stroke-width="1.25"/><path d="M214.43 315.43L222.43 315.43L218.43 308.33Z" fill="#fff" stroke="#000" stroke-width="1.25"/><path d="M216.64 316.59L224.64 316.59L220.64 309.49Z" fill="#fff" stroke="#000" stroke-width="1.25"/><path d="M218.86 317.77L226.86 317.77L222.86 310.67Z" fill="#fff" stroke="#000" stroke-width="1.25"/><path d="M221.07 318.95L229.07 318.95L225.07 311.85Z" fill="#fff" stroke="#000" stroke-width="1.25"/><path d="M223.29 320.13L231.29 320.13L227.29 313.03Z" fill="#fff" stroke="#000" stroke-width="1.25"/><path d="M225.50 321.17L233.50 321.17L229.50 314.07Z" fill="#fff" stroke="#000" stroke-width="1.25"/><path d="M227.71 322.04L235.71 322.04L231.71 314.94Z" fill="#fff" stroke="#000" stroke-width="1.25"/><path d="M229.93 322.90L237.93 322.90L233.93 315.80Z" fill="#fff" stroke="#000" stroke-width="1.25"/><path d="M232.14 323.77L240.14 323.77L236.14 316.67Z" fill="#fff" stroke="#000" stroke-width="1.25"/><path d="M234.36 324.64L242.36 324.64L238.36 317.54Z" fill="#fff" stroke="#000" stroke-width="1.25"/><path d="M236.57 325.50L244.57 325.50L240.57 318.40Z" fill="#fff" stroke="#000" stroke-width="1.25"/><path d="M238.79 326.32L246.79 326.32L242.79 319.22Z" fill="#fff" stroke="#000" stroke-width="1.25"/><path d="M241.00 327.14L249.00 327.14L245.00 320.04Z" fill="#fff" stroke="#000" stroke-width="1.25"/><path d="M243.21 327.96L251.21 327.96L247.21 320.86Z" fill="#fff" stroke="#000" stroke-width="1.25"/><path d="M245.43 328.78L253.43 328.78L249.43 321.68Z" fill="#fff" stroke="#000" stroke-width="1.25"/><path d="M247.64 329.59L255.64 329.59L251.64 322.49Z" fill="#fff" stroke="#000" stroke-width="1.25"/><path d="M249.86 330.34L257.86 330.34L253.86 323.24Z" fill="#fff" stroke="#000" stroke-width="1.25"/><path d="M252.07 330.93L260.07 330.93L256.07 323.83Z" fill="#fff" stroke="#000" stroke-width="1.25"/><path d="M254.29 331.53L262.29 331.53L258.29 324.43Z" fill="#fff" stroke="#000" stroke-width="1.25"/><path d="M256.50 332.12L264.50 332.12L260.50 325.02Z" fill="#fff" stroke="#000" stroke-width="1.25"/><path d="M258.71 332.72L266.71 332.72L262.71 325.62Z" fill="#fff" stroke="#000" stroke-width="1.25"/><path d="M260.93 333.31L268.93 333.31L264.93 326.21Z" fill="#fff" stroke="#000" stroke-width="1.25"/><path d="M263.14 333.85L271.14 333.85L267.14 326.75Z" fill="#fff" stroke="#000" stroke-width="1.25"/><path d="M265.36 334.27L273.36 334.27L269.36 327.17Z" fill="#fff" stroke="#000" stroke-width="1.25"/><path d="M267.57 334.68L275.57 334.68L271.57 327.58Z" fill="#fff" stroke="#000" stroke-width="1.25"/><path d="M269.79 335.10L277.79 335.10L273.79 328.00Z" fill="#fff" stroke="#000" stroke-width="1.25"/><path d="M272.00 335.51L280.00 335.51L276.00 328.41Z" fill="#fff" stroke="#000" stroke-width="1.25"/><path d="M274.21 335.93L282.21 335.93L278.21 328.83Z" fill="#fff" stroke="#000" stroke-width="1.25"/><path d="M276.43 336.34L284.43 336.34L280.43 329.24Z" fill="#fff" stroke="#000" stroke-width="1.25"/><path d="M278.64 336.71L286.64 336.71L282.64 329.61Z" fill="#fff" stroke="#000" stroke-width="1.25"/><path d="M280.86 337.00L288.86 337.00L284.86 329.90Z" fill="#fff" stroke="#000" stroke-width="1.25"/><path d="M283.07 337.29L291.07 337.29L287.07 330.19Z" fill="#fff" stroke="#000" stroke-width="1.25"/><path d="M285.29 337.58L293.29 337.58L289.29 330.48Z" fill="#fff" stroke="#000" stroke-width="1.25"/><path d="M287.50 337.87L295.50 337.87L291.50 330.77Z" fill="#fff" stroke="#000" stroke-width="1.25"/><path d="M289.71 338.16L297.71 338.16L293.71 331.06Z" fill="#fff" stroke="#000" stroke-width="1.25"/><path d="M291.93 338.44L299.93 338.44L295.93 331.34Z" fill="#fff" stroke="#000" stroke-width="1.25"/><path d="M294.14 338.73L302.14 338.73L298.14 331.63Z" fill="#fff" stroke="#000" stroke-width="1.25"/><path d="M296.36 339.02L304.36 339.02L300.36 331.92Z" fill="#fff" stroke="#000" stroke-width="1.25"/><path d="M298.57 339.29L306.57 339.29L302.57 332.19Z" fill="#fff" stroke="#000" stroke-width="1.25"/><path d="M300.79 339.45L308.79 339.45L304.79 332.35Z" fill="#fff" stroke="#000" stroke-width="1.25"/><path d="M303.00 339.60L311.00 339.60L307.00 332.50Z" fill="#fff" stroke="#000" stroke-width="1.25"/><path d="M305.21 339.74L313.21 339.74L309.21 332.64Z" fill="#fff" stroke="#000" stroke-width="1.25"/><path d="M307.43 339.86L315.43 339.86L311.43 332.76Z" fill="#fff" stroke="#000" stroke-width="1.25"/><path d="M309.64 339.97L317.64 339.97L313.64 332.87Z" fill="#fff" stroke="#000" stroke-width="1.25"/><path d="M311.86 340.09L319.86 340.09L315.86 332.99Z" fill="#fff" stroke="#000" stroke-width="1.25"/><path d="M314.07 340.21L322.07 340.21L318.07 333.11Z" fill="#fff" stroke="#000" stroke-width="1.25"/><path d="M316.29 340.32L324.29 340.32L320.29 333.22Z" fill="#fff" stroke="#000" stroke-width="1.25"/><path d="M318.50 340.44L326.50 340.44L322.50 333.34Z" fill="#fff" stroke="#000" stroke-width="1.25"/><path d="M320.71 340.55L328.71 340.55L324.71 333.45Z" fill="#fff" stroke="#000" stroke-width="1.25"/><path d="M322.93 340.67L330.93 340.67L326.93 333.57Z" fill="#fff" stroke="#000" stroke-width="1.25"/><path d="M325.14 340.78L333.14 340.78L329.14 333.68Z" fill="#fff" stroke="#000" stroke-width="1.25"/><path d="M327.36 340.90L335.36 340.90L331.36 333.80Z" fill="#fff" stroke="#000" stroke-width="1.25"/><path d="M329.57 341.01L337.57 341.01L333.57 333.91Z" fill="#fff" stroke="#000" stroke-width="1.25"/><path d="M331.79 341.11L339.79 341.11L335.79 334.01Z" fill="#fff" stroke="#000" stroke-width="1.25"/><path d="M334.00 341.16L342.00 341.16L338.00 334.06Z" fill="#fff" stroke="#000" stroke-width="1.25"/><path d="M336.21 341.21L344.21 341.21L340.21 334.11Z" fill="#fff" stroke="#000" stroke-width="1.25"/><path d="M338.43 341.25L346.43 341.25L342.43 334.15Z" fill="#fff" stroke="#000" stroke-width="1.25"/><path d="M340.64 341.30L348.64 341.30L344.64 334.20Z" fill="#fff" stroke="#000" stroke-width="1.25"/><path d="M342.86 341.35L350.86 341.35L346.86 334.25Z" fill="#fff" stroke="#000" stroke-width="1.25"/><path d="M345.07 341.40L353.07 341.40L349.07 334.30Z" fill="#fff" stroke="#000" stroke-width="1.25"/><path d="M347.29 341.42L355.29 341.42L351.29 334.32Z" fill="#fff" stroke="#000" stroke-width="1.25"/><path d="M349.50 341.44L357.50 341.44L353.50 334.34Z" fill="#fff" stroke="#000" stroke-width="1.25"/><path d="M351.71 341.47L359.71 341.47L355.71 334.37Z" fill="#fff" stroke="#000" stroke-width="1.25"/><path d="M353.93 341.49L361.93 341.49L357.93 334.39Z" fill="#fff" stroke="#000" stroke-width="1.25"/><path d="M356.14 341.51L364.14 341.51L360.14 334.41Z" fill="#fff" stroke="#000" stroke-width="1.25"/><path d="M358.36 341.50L366.36 341.50L362.36 334.40Z" fill="#fff" stroke="#000" stroke-width="1.25"/><path d="M360.57 341.49L368.57 341.49L364.57 334.39Z" fill="#fff" stroke="#000" stroke-width="1.25"/><path d="M362.79 341.48L370.79 341.48L366.79 334.38Z" fill="#fff" stroke="#000" stroke-width="1.25"/><path d="M365.00 341.47L373.00 341.47L369.00 334.37Z" fill="#fff" stroke="#000" stroke-width="1.25"/><path d="M367.21 341.47L375.21 341.47L371.21 334.37Z" fill="#fff" stroke="#000" stroke-width="1.25"/><path d="M369.43 341.46L377.43 341.46L373.43 334.36Z" fill="#fff" stroke="#000" stroke-width="1.25"/><path d="M371.64 341.45L379.64 341.45L375.64 334.35Z" fill="#fff" stroke="#000" stroke-width="1.25"/><path d="M373.86 341.44L381.86 341.44L377.86 334.34Z" fill="#fff" stroke="#000" stroke-width="1.25"/><path d="M376.07 341.43L384.07 341.43L380.07 334.33Z" fill="#fff" stroke="#000" stroke-width="1.25"/><path d="M378.29 341.42L386.29 341.42L382.29 334.32Z" fill="#fff" stroke="#000" stroke-width="1.25"/><path d="M380.50 341.42L388.50 341.42L384.50 334.32Z" fill="#fff" stroke="#000" stroke-width="1.25"/><path d="M382.71 341.41L390.71 341.41L386.71 334.31Z" fill="#fff" stroke="#000" stroke-width="1.25"/><path d="M384.93 341.40L392.93 341.40L388.93 334.30Z" fill="#fff" stroke="#000" stroke-width="1.25"/><path d="M387.14 341.39L395.14 341.39L391.14 334.29Z" fill="#fff" stroke="#000" stroke-width="1.25"/><path d="M389.36 341.38L397.36 341.38L393.36 334.28Z" fill="#fff" stroke="#000" stroke-width="1.25"/><path d="M391.57 341.38L399.57 341.38L395.57 334.28Z" fill="#fff" stroke="#000" stroke-width="1.25"/><path d="M393.79 341.37L401.79 341.37L397.79 334.27Z" fill="#fff" stroke="#000" stroke-width="1.25"/><path d="M396.00 341.36L404.00 341.36L400.00 334.26Z" fill="#fff" stroke="#000" stroke-width="1.25"/><path d="M398.21 341.35L406.21 341.35L402.21 334.25Z" fill="#fff" stroke="#000" stroke-width="1.25"/><path d="M400.43 341.34L408.43 341.34L404.43 334.24Z" fill="#fff" stroke="#000" stroke-width="1.25"/><path d="M402.64 341.33L410.64 341.33L406.64 334.23Z" fill="#fff" stroke="#000" stroke-width="1.25"/><path d="M404.86 341.33L412.86 341.33L408.86 334.23Z" fill="#fff" stroke="#000" stroke-width="1.25"/><path d="M407.07 341.31L415.07 341.31L411.07 334.21Z" fill="#fff" stroke="#000" stroke-width="1.25"/><path d="M409.29 341.30L417.29 341.30L413.29 334.20Z" fill="#fff" stroke="#000" stroke-width="1.25"/><path d="M411.50 341.29L419.50 341.29L415.50 334.19Z" fill="#fff" stroke="#000" stroke-width="1.25"/><path d="M413.71 341.27L421.71 341.27L417.71 334.17Z" fill="#fff" stroke="#000" stroke-width="1.25"/><path d="M415.93 341.26L423.93 341.26L419.93 334.16Z" fill="#fff" stroke="#000" stroke-width="1.25"/><path d="M418.14 341.25L426.14 341.25L422.14 334.15Z" fill="#fff" stroke="#000" stroke-width="1.25"/><path d="M420.36 341.23L428.36 341.23L424.36 334.13Z" fill="#fff" stroke="#000" stroke-width="1.25"/><path d="M422.57 341.22L430.57 341.22L426.57 334.12Z" fill="#fff" stroke="#000" stroke-width="1.25"/><path d="M424.79 341.20L432.79 341.20L428.79 334.10Z" fill="#fff" stroke="#000" stroke-width="1.25"/><path d="M427.00 341.19L435.00 341.19L431.00 334.09Z" fill="#fff" stroke="#000" stroke-width="1.25"/><path d="M429.21 341.18L437.21 341.18L433.21 334.08Z" fill="#fff" stroke="#000" stroke-width="1.25"/><path d="M431.43 341.16L439.43 341.16L435.43 334.06Z" fill="#fff" stroke="#000" stroke-width="1.25"/><path d="M433.64 341.15L441.64 341.15L437.64 334.05Z" fill="#fff" stroke="#000" stroke-width="1.25"/><path d="M435.86 341.14L443.86 341.14L439.86 334.04Z" fill="#fff" stroke="#000" stroke-width="1.25"/><path d="M438.07 341.12L446.07 341.12L442.07 334.02Z" fill="#fff" stroke="#000" stroke-width="1.25"/><path d="M440.29 341.11L448.29 341.11L444.29 334.01Z" fill="#fff" stroke="#000" stroke-width="1.25"/><path d="M442.50 341.10L450.50 341.10L446.50 334.00Z" fill="#fff" stroke="#000" stroke-width="1.25"/><path d="M444.71 341.08L452.71 341.08L448.71 333.98Z" fill="#fff" stroke="#000" stroke-width="1.25"/><path d="M446.93 341.07L454.93 341.07L450.93 333.97Z" fill="#fff" stroke="#000" stroke-width="1.25"/><path d="M449.14 341.06L457.14 341.06L453.14 333.96Z" fill="#fff" stroke="#000" stroke-width="1.25"/><path d="M451.36 341.04L459.36 341.04L455.36 333.94Z" fill="#fff" stroke="#000" stroke-width="1.25"/><path d="M453.57 341.03L461.57 341.03L457.57 333.93Z" fill="#fff" stroke="#000" stroke-width="1.25"/><path d="M455.79 341.02L463.79 341.02L459.79 333.92Z" fill="#fff" stroke="#000" stroke-width="1.25"/><path d="M458.00 341.00L466.00 341.00L462.00 333.90Z" fill="#fff" stroke="#000" stroke-width="1.25"/><path d="M460.21 340.99L468.21 340.99L464.21 333.89Z" fill="#fff" stroke="#000" stroke-width="1.25"/><path d="M462.43 340.98L470.43 340.98L466.43 333.88Z" fill="#fff" stroke="#000" stroke-width="1.25"/><path d="M464.64 340.96L472.64 340.96L468.64 333.86Z" fill="#fff" stroke="#000" stroke-width="1.25"/><path d="M466.86 340.95L474.86 340.95L470.86 333.85Z" fill="#fff" stroke="#000" stroke-width="1.25"/><path d="M469.07 340.93L477.07 340.93L473.07 333.83Z" fill="#fff" stroke="#000" stroke-width="1.25"/><path d="M471.29 340.92L479.29 340.92L475.29 333.82Z" fill="#fff" stroke="#000" stroke-width="1.25"/><path d="M473.50 340.91L481.50 340.91L477.50 333.81Z" fill="#fff" stroke="#000" stroke-width="1.25"/><path d="M475.71 340.89L483.71 340.89L479.71 333.79Z" fill="#fff" stroke="#000" stroke-width="1.25"/><path d="M477.93 340.88L485.93 340.88L481.93 333.78Z" fill="#fff" stroke="#000" stroke-width="1.25"/><path d="M480.14 340.87L488.14 340.87L484.14 333.77Z" fill="#fff" stroke="#000" stroke-width="1.25"/><path d="M482.36 340.85L490.36 340.85L486.36 333.75Z" fill="#fff" stroke="#000" stroke-width="1.25"/><path d="M484.57 340.84L492.57 340.84L488.57 333.74Z" fill="#fff" stroke="#000" stroke-width="1.25"/><path d="M486.79 340.83L494.79 340.83L490.79 333.73Z" fill="#fff" stroke="#000" stroke-width="1.25"/><path d="M489.00 340.81L497.00 340.81L493.00 333.71Z" fill="#fff" stroke="#000" stroke-width="1.25"/><path d="M491.21 340.80L499.21 340.80L495.21 333.70Z" fill="#fff" stroke="#000" stroke-width="1.25"/><path d="M493.43 340.79L501.43 340.79L497.43 333.69Z" fill="#fff" stroke="#000" stroke-width="1.25"/><path d="M495.64 340.77L503.64 340.77L499.64 333.67Z" fill="#fff" stroke="#000" stroke-width="1.25"/><path d="M497.86 340.76L505.86 340.76L501.86 333.66Z" fill="#fff" stroke="#000" stroke-width="1.25"/><path d="M500.07 340.75L508.07 340.75L504.07 333.65Z" fill="#fff" stroke="#000" stroke-width="1.25"/><path d="M502.29 340.73L510.29 340.73L506.29 333.63Z" fill="#fff" stroke="#000" stroke-width="1.25"/><path d="M504.50 340.72L512.50 340.72L508.50 333.62Z" fill="#fff" stroke="#000" stroke-width="1.25"/><path d="M506.71 340.71L514.71 340.71L510.71 333.61Z" fill="#fff" stroke="#000" stroke-width="1.25"/><path d="M508.93 340.68L516.93 340.68L512.93 333.58Z" fill="#fff" stroke="#000" stroke-width="1.25"/><path d="M511.14 340.66L519.14 340.66L515.14 333.56Z" fill="#fff" stroke="#000" stroke-width="1.25"/><path d="M513.36 340.63L521.36 340.63L517.36 333.53Z" fill="#fff" stroke="#000" stroke-width="1.25"/><path d="M515.57 340.61L523.57 340.61L519.57 333.51Z" fill="#fff" stroke="#000" stroke-width="1.25"/><path d="M517.79 340.58L525.79 340.58L521.79 333.48Z" fill="#fff" stroke="#000" stroke-width="1.25"/><path d="M520.00 340.56L528.00 340.56L524.00 333.46Z" fill="#fff" stroke="#000" stroke-width="1.25"/><path d="M522.21 340.53L530.21 340.53L526.21 333.43Z" fill="#fff" stroke="#000" stroke-width="1.25"/><path d="M524.43 340.51L532.43 340.51L528.43 333.41Z" fill="#fff" stroke="#000" stroke-width="1.25"/><path d="M526.64 340.48L534.64 340.48L530.64 333.38Z" fill="#fff" stroke="#000" stroke-width="1.25"/><path d="M528.86 340.46L536.86 340.46L532.86 333.36Z" fill="#fff" stroke="#000" stroke-width="1.25"/><path d="M531.07 340.43L539.07 340.43L535.07 333.33Z" fill="#fff" stroke="#000" stroke-width="1.25"/><path d="M533.29 340.41L541.29 340.41L537.29 333.31Z" fill="#fff" stroke="#000" stroke-width="1.25"/><path d="M535.50 340.38L543.50 340.38L539.50 333.28Z" fill="#fff" stroke="#000" stroke-width="1.25"/></g>
<g><polyline points="74.50,231.13 76.71,209.22 78.93,203.06 81.14,209.22 83.36,228.90 85.57,257.97 87.79,283.55 90.00,306.49 92.21,322.84 94.43,330.40 96.64,333.75 98.86,334.60 101.07,334.75 103.29,333.74 105.50,332.60 107.71,331.36 109.93,330.04 112.14,328.67 114.36,327.28 116.57,325.89 118.79,324.51 121.00,323.12 123.21,321.70 125.43,320.18 127.64,318.32 129.86,316.05 132.07,314.27 134.29,312.75 136.50,311.39 138.71,310.07 140.93,309.22 143.14,308.38 145.36,307.63 147.57,306.97 149.79,306.50 152.00,306.13 154.21,305.85 156.43,305.70 158.64,305.60 160.86,305.60 163.07,305.61 165.29,305.80 167.50,306.01 169.71,306.29 171.93,306.61 174.14,306.99 176.36,307.52 178.57,308.18 180.79,308.91 183.00,309.66 185.21,310.50 187.43,311.36 189.64,312.22 191.86,312.97 194.07,313.69 196.29,314.40 198.50,315.12 200.71,316.00 202.93,316.90 205.14,317.81 207.36,318.68 209.57,319.53 211.79,320.38 214.00,321.14 216.21,321.88 218.43,322.62 220.64,323.38 222.86,324.15 225.07,324.92 227.29,325.68 229.50,326.30 231.71,326.86 233.93,327.43 236.14,327.99 238.36,328.55 240.57,329.11 242.79,329.64 245.00,330.17 247.21,330.70 249.43,331.23 251.64,331.76 253.86,332.19 256.07,332.58 258.29,332.96 260.50,333.35 262.71,333.74 264.93,334.12 267.14,334.42 269.36,334.69 271.57,334.96 273.79,335.23 276.00,335.50 278.21,335.77 280.43,336.04 282.64,336.24 284.86,336.43 287.07,336.61 289.29,336.80 291.50,336.99 293.71,337.18 295.93,337.36 298.14,337.55 300.36,337.74 302.57,337.87 304.79,337.97 307.00,338.07 309.21,338.14 311.43,338.22 313.64,338.29 315.86,338.37 318.07,338.44 320.29,338.52 322.50,338.59 324.71,338.67 326.93,338.74 329.14,338.82 331.36,338.89 333.57,338.97 335.79,339.00 338.00,339.03 340.21,339.06 342.43,339.09 344.64,339.12 346.86,339.15 349.07,339.19 351.29,339.19 353.50,339.20 355.71,339.20 357.93,339.21 360.14,339.20 362.36,339.18 364.57,339.17 366.79,339.15 369.00,339.14 371.21,339.13 373.43,339.11 375.64,339.10 377.86,339.08 380.07,339.07 382.29,339.05 384.50,339.04 386.71,339.03 388.93,339.01 391.14,339.00 393.36,338.98 395.57,338.97 397.79,338.96 400.00,338.94 402.21,338.93 404.43,338.91 406.64,338.90 408.86,338.88 411.07,338.86 413.29,338.85 415.50,338.83 417.71,338.81 419.93,338.79 422.14,338.78 424.36,338.76 426.57,338.74 428.79,338.72 431.00,338.71 433.21,338.69 435.43,338.67 437.64,338.65 439.86,338.64 442.07,338.62 444.29,338.60 446.50,338.58 448.71,338.57 450.93,338.55 453.14,338.53 455.36,338.51 457.57,338.50 459.79,338.48 462.00,338.46 464.21,338.44 466.43,338.43 468.64,338.41 470.86,338.39 473.07,338.37 475.29,338.36 477.50,338.34 479.71,338.32 481.93,338.30 484.14,338.29 486.36,338.27 488.57,338.25 490.79,338.23 493.00,338.21 495.21,338.20 497.43,338.18 499.64,338.16 501.86,338.14 504.07,338.13 506.29,338.11 508.50,338.09 510.71,338.07 512.93,338.04 515.14,338.02 517.36,337.99 519.57,337.97 521.79,337.94 524.00,337.92 526.21,337.89 528.43,337.87 530.64,337.84 532.86,337.82 535.07,337.79 537.29,337.77 539.50,337.74" fill="none" stroke="#444" stroke-width="1"/><rect x="70.90" y="227.53" width="7.20" height="7.20" fill="#000" stroke="#000" stroke-width="1.0"/><rect x="73.11" y="205.62" width="7.20" height="7.20" fill="#000" stroke="#000" stroke-width="1.0"/><rect x="75.33" y="199.46" width="7.20" height="7.20" fill="#000" stroke="#000" stroke-width="1.0"/><rect x="77.54" y="205.62" width="7.20" height="7.20" fill="#000" stroke="#000" stroke-width="1.0"/><rect x="79.76" y="225.30" width="7.20" height="7.20" fill="#000" stroke="#000" stroke-width="1.0"/><rect x="81.97" y="254.37" width="7.20" height="7.20" fill="#000" stroke="#000" stroke-width="1.0"/><rect x="84.19" y="279.95" width="7.20" height="7.20" fill="#000" stroke="#000" stroke-width="1.0"/><rect x="86.40" y="302.89" width="7.20" height="7.20" fill="#000" stroke="#000" stroke-width="1.0"/><rect x="88.61" y="319.24" width="7.20" height="7.20" fill="#000" stroke="#000" stroke-width="1.0"/><rect x="90.83" y="326.80" width="7.20" height="7.20" fill="#000" stroke="#000" stroke-width="1.0"/><rect x="93.04" y="330.15" width="7.20" height="7.20" fill="#000" stroke="#000" stroke-width="1.0"/><rect x="95.26" y="331.00" width="7.20" height="7.20" fill="#000" stroke="#000" stroke-width="1.0"/><rect x="97.47" y="331.15" width="7.20" height="7.20" fill="#000" stroke="#000" stroke-width="1.0"/><rect x="99.69" y="330.14" width="7.20" height="7.20" fill="#000" stroke="#000" stroke-width="1.0"/><rect x="101.90" y="329.00" width="7.20" height="7.20" fill="#000" stroke="#000" stroke-width="1.0"/><rect x="104.11" y="327.76" width="7.20" height="7.20" fill="#000" stroke="#000" stroke-width="1.0"/><rect x="106.33" y="326.44" width="7.20" height="7.20" fill="#000" stroke="#000" stroke-width="1.0"/><rect x="108.54" y="325.07" width="7.20" height="7.20" fill="#000" stroke="#000" stroke-width="1.0"/><rect x="110.76" y="323.68" width="7.20" height="7.20" fill="#000" stroke="#000" stroke-width="1.0"/><rect x="112.97" y="322.29" width="7.20" height="7.20" fill="#000" stroke="#000" stroke-width="1.0"/><rect x="115.19" y="320.91" width="7.20" height="7.20" fill="#000" stroke="#000" stroke-width="1.0"/><rect x="117.40" y="319.52" width="7.20" height="7.20" fill="#000" stroke="#000" stroke-width="1.0"/><rect x="119.61" y="318.10" width="7.20" height="7.20" fill="#000" stroke="#000" stroke-width="1.0"/><rect x="121.83" y="316.58" width="7.20" height="7.20" fill="#000" stroke="#000" stroke-width="1.0"/><rect x="124.04" y="314.72" width="7.20" height="7.20" fill="#000" stroke="#000" stroke-width="1.0"/><rect x="126.26" y="312.45" width="7.20" height="7.20" fill="#000" stroke="#000" stroke-width="1.0"/><rect x="128.47" y="310.67" width="7.20" height="7.20" fill="#000" stroke="#000" stroke-width="1.0"/><rect x="130.69" y="309.15" width="7.20" height="7.20" fill="#000" stroke="#000" stroke-width="1.0"/><rect x="132.90" y="307.79" width="7.20" height="7.20" fill="#000" stroke="#000" stroke-width="1.0"/><rect x="135.11" y="306.47" width="7.20" height="7.20" fill="#000" stroke="#000" stroke-width="1.0"/><rect x="137.33" y="305.62" width="7.20" height="7.20" fill="#000" stroke="#000" stroke-width="1.0"/><rect x="139.54" y="304.78" width="7.20" height="7.20" fill="#000" stroke="#000" stroke-width="1.0"/><rect x="141.76" y="304.03" width="7.20" height="7.20" fill="#000" stroke="#000" stroke-width="1.0"/><rect x="143.97" y="303.37" width="7.20" height="7.20" fill="#000" stroke="#000" stroke-width="1.0"/><rect x="146.19" y="302.90" width="7.20" height="7.20" fill="#000" stroke="#000" stroke-width="1.0"/><rect x="148.40" y="302.53" width="7.20" height="7.20" fill="#000" stroke="#000" stroke-width="1.0"/><rect x="150.61" y="302.25" width="7.20" height="7.20" fill="#000" stroke="#000" stroke-width="1.0"/><rect x="152.83" y="302.10" width="7.20" height="7.20" fill="#000" stroke="#000" stroke-width="1.0"/><rect x="155.04" y="302.00" width="7.20" height="7.20" fill="#000" stroke="#000" stroke-width="1.0"/><rect x="157.26" y="302.00" width="7.20" height="7.20" fill="#000" stroke="#000" stroke-width="1.0"/><rect x="159.47" y="302.01" width="7.20" height="7.20" fill="#000" stroke="#000" stroke-width="1.0"/><rect x="161.69" y="302.20" width="7.20" height="7.20" fill="#000" stroke="#000" stroke-width="1.0"/><rect x="163.90" y="302.41" width="7.20" height="7.20" fill="#000" stroke="#000" stroke-width="1.0"/><rect x="166.11" y="302.69" width="7.20" height="7.20" fill="#000" stroke="#000" stroke-width="1.0"/><rect x="168.33" y="303.01" width="7.20" height="7.20" fill="#000" stroke="#000" stroke-width="1.0"/><rect x="170.54" y="303.39" width="7.20" height="7.20" fill="#000" stroke="#000" stroke-width="1.0"/><rect x="172.76" y="303.92" width="7.20" height="7.20" fill="#000" stroke="#000" stroke-width="1.0"/><rect x="174.97" y="304.58" width="7.20" height="7.20" fill="#000" stroke="#000" stroke-width="1.0"/><rect x="177.19" y="305.31" width="7.20" height="7.20" fill="#000" stroke="#000" stroke-width="1.0"/><rect x="179.40" y="306.06" width="7.20" height="7.20" fill="#000" stroke="#000" stroke-width="1.0"/><rect x="181.61" y="306.90" width="7.20" height="7.20" fill="#000" stroke="#000" stroke-width="1.0"/><rect x="183.83" y="307.76" width="7.20" height="7.20" fill="#000" stroke="#000" stroke-width="1.0"/><rect x="186.04" y="308.62" width="7.20" height="7.20" fill="#000" stroke="#000" stroke-width="1.0"/><rect x="188.26" y="309.37" width="7.20" height="7.20" fill="#000" stroke="#000" stroke-width="1.0"/><rect x="190.47" y="310.09" width="7.20" height="7.20" fill="#000" stroke="#000" stroke-width="1.0"/><rect x="192.69" y="310.80" width="7.20" height="7.20" fill="#000" stroke="#000" stroke-width="1.0"/><rect x="194.90" y="311.52" width="7.20" height="7.20" fill="#000" stroke="#000" stroke-width="1.0"/><rect x="197.11" y="312.40" width="7.20" height="7.20" fill="#000" stroke="#000" stroke-width="1.0"/><rect x="199.33" y="313.30" width="7.20" height="7.20" fill="#000" stroke="#000" stroke-width="1.0"/><rect x="201.54" y="314.21" width="7.20" height="7.20" fill="#000" stroke="#000" stroke-width="1.0"/><rect x="203.76" y="315.08" width="7.20" height="7.20" fill="#000" stroke="#000" stroke-width="1.0"/><rect x="205.97" y="315.93" width="7.20" height="7.20" fill="#000" stroke="#000" stroke-width="1.0"/><rect x="208.19" y="316.78" width="7.20" height="7.20" fill="#000" stroke="#000" stroke-width="1.0"/><rect x="210.40" y="317.54" width="7.20" height="7.20" fill="#000" stroke="#000" stroke-width="1.0"/><rect x="212.61" y="318.28" width="7.20" height="7.20" fill="#000" stroke="#000" stroke-width="1.0"/><rect x="214.83" y="319.02" width="7.20" height="7.20" fill="#000" stroke="#000" stroke-width="1.0"/><rect x="217.04" y="319.78" width="7.20" height="7.20" fill="#000" stroke="#000" stroke-width="1.0"/><rect x="219.26" y="320.55" width="7.20" height="7.20" fill="#000" stroke="#000" stroke-width="1.0"/><rect x="221.47" y="321.32" width="7.20" height="7.20" fill="#000" stroke="#000" stroke-width="1.0"/><rect x="223.69" y="322.08" width="7.20" height="7.20" fill="#000" stroke="#000" stroke-width="1.0"/><rect x="225.90" y="322.70" width="7.20" height="7.20" fill="#000" stroke="#000" stroke-width="1.0"/><rect x="228.11" y="323.26" width="7.20" height="7.20" fill="#000" stroke="#000" stroke-width="1.0"/><rect x="230.33" y="323.83" width="7.20" height="7.20" fill="#000" stroke="#000" stroke-width="1.0"/><rect x="232.54" y="324.39" width="7.20" height="7.20" fill="#000" stroke="#000" stroke-width="1.0"/><rect x="234.76" y="324.95" width="7.20" height="7.20" fill="#000" stroke="#000" stroke-width="1.0"/><rect x="236.97" y="325.51" width="7.20" height="7.20" fill="#000" stroke="#000" stroke-width="1.0"/><rect x="239.19" y="326.04" width="7.20" height="7.20" fill="#000" stroke="#000" stroke-width="1.0"/><rect x="241.40" y="326.57" width="7.20" height="7.20" fill="#000" stroke="#000" stroke-width="1.0"/><rect x="243.61" y="327.10" width="7.20" height="7.20" fill="#000" stroke="#000" stroke-width="1.0"/><rect x="245.83" y="327.63" width="7.20" height="7.20" fill="#000" stroke="#000" stroke-width="1.0"/><rect x="248.04" y="328.16" width="7.20" height="7.20" fill="#000" stroke="#000" stroke-width="1.0"/><rect x="250.26" y="328.59" width="7.20" height="7.20" fill="#000" stroke="#000" stroke-width="1.0"/><rect x="252.47" y="328.98" width="7.20" height="7.20" fill="#000" stroke="#000" stroke-width="1.0"/><rect x="254.69" y="329.36" width="7.20" height="7.20" fill="#000" stroke="#000" stroke-width="1.0"/><rect x="256.90" y="329.75" width="7.20" height="7.20" fill="#000" stroke="#000" stroke-width="1.0"/><rect x="259.11" y="330.14" width="7.20" height="7.20" fill="#000" stroke="#000" stroke-width="1.0"/><rect x="261.33" y="330.52" width="7.20" height="7.20" fill="#000" stroke="#000" stroke-width="1.0"/><rect x="263.54" y="330.82" width="7.20" height="7.20" fill="#000" stroke="#000" stroke-width="1.0"/><rect x="265.76" y="331.09" width="7.20" height="7.20" fill="#000" stroke="#000" stroke-width="1.0"/><rect x="267.97" y="331.36" width="7.20" height="7.20" fill="#000" stroke="#000" stroke-width="1.0"/><rect x="270.19" y="331.63" width="7.20" height="7.20" fill="#000" stroke="#000" stroke-width="1.0"/><rect x="272.40" y="331.90" width="7.20" height="7.20" fill="#000" stroke="#000" stroke-width="1.0"/><rect x="274.61" y="332.17" width="7.20" height="7.20" fill="#000" stroke="#000" stroke-width="1.0"/><rect x="276.83" y="332.44" width="7.20" height="7.20" fill="#000" stroke="#000" stroke-width="1.0"/><rect x="279.04" y="332.64" width="7.20" height="7.20" fill="#000" stroke="#000" stroke-width="1.0"/><rect x="281.26" y="332.83" width="7.20" height="7.20" fill="#000" stroke="#000" stroke-width="1.0"/><rect x="283.47" y="333.01" width="7.20" height="7.20" fill="#000" stroke="#000" stroke-width="1.0"/><rect x="285.69" y="333.20" width="7.20" height="7.20" fill="#000" stroke="#000" stroke-width="1.0"/><rect x="287.90" y="333.39" width="7.20" height="7.20" fill="#000" stroke="#000" stroke-width="1.0"/><rect x="290.11" y="333.58" width="7.20" height="7.20" fill="#000" stroke="#000" stroke-width="1.0"/><rect x="292.33" y="333.76" width="7.20" height="7.20" fill="#000" stroke="#000" stroke-width="1.0"/><rect x="294.54" y="333.95" width="7.20" height="7.20" fill="#000" stroke="#000" stroke-width="1.0"/><rect x="296.76" y="334.14" width="7.20" height="7.20" fill="#000" stroke="#000" stroke-width="1.0"/><rect x="298.97" y="334.27" width="7.20" height="7.20" fill="#000" stroke="#000" stroke-width="1.0"/><rect x="301.19" y="334.37" width="7.20" height="7.20" fill="#000" stroke="#000" stroke-width="1.0"/><rect x="303.40" y="334.47" width="7.20" height="7.20" fill="#000" stroke="#000" stroke-width="1.0"/><rect x="305.61" y="334.54" width="7.20" height="7.20" fill="#000" stroke="#000" stroke-width="1.0"/><rect x="307.83" y="334.62" width="7.20" height="7.20" fill="#000" stroke="#000" stroke-width="1.0"/><rect x="310.04" y="334.69" width="7.20" height="7.20" fill="#000" stroke="#000" stroke-width="1.0"/><rect x="312.26" y="334.77" width="7.20" height="7.20" fill="#000" stroke="#000" stroke-width="1.0"/><rect x="314.47" y="334.84" width="7.20" height="7.20" fill="#000" stroke="#000" stroke-width="1.0"/><rect x="316.69" y="334.92" width="7.20" height="7.20" fill="#000" stroke="#000" stroke-width="1.0"/><rect x="318.90" y="334.99" width="7.20" height="7.20" fill="#000" stroke="#000" stroke-width="1.0"/><rect x="321.11" y="335.07" width="7.20" height="7.20" fill="#000" stroke="#000" stroke-width="1.0"/><rect x="323.33" y="335.14" width="7.20" height="7.20" fill="#000" stroke="#000" stroke-width="1.0"/><rect x="325.54" y="335.22" width="7.20" height="7.20" fill="#000" stroke="#000" stroke-width="1.0"/><rect x="327.76" y="335.29" width="7.20" height="7.20" fill="#000" stroke="#000" stroke-width="1.0"/><rect x="329.97" y="335.37" width="7.20" height="7.20" fill="#000" stroke="#000" stroke-width="1.0"/><rect x="332.19" y="335.40" width="7.20" height="7.20" fill="#000" stroke="#000" stroke-width="1.0"/><rect x="334.40" y="335.43" width="7.20" height="7.20" fill="#000" stroke="#000" stroke-width="1.0"/><rect x="336.61" y="335.46" width="7.20" height="7.20" fill="#000" stroke="#000" stroke-width="1.0"/><rect x="338.83" y="335.49" width="7.20" height="7.20" fill="#000" stroke="#000" stroke-width="1.0"/><rect x="341.04" y="335.52" width="7.20" height="7.20" fill="#000" stroke="#000" stroke-width="1.0"/><rect x="343.26" y="335.55" width="7.20" height="7.20" fill="#000" stroke="#000" stroke-width="1.0"/><rect x="345.47" y="335.59" width="7.20" height="7.20" fill="#000" stroke="#000" stroke-width="1.0"/><rect x="347.69" y="335.59" width="7.20" height="7.20" fill="#000" stroke="#000" stroke-width="1.0"/><rect x="349.90" y="335.60" width="7.20" height="7.20" fill="#000" stroke="#000" stroke-width="1.0"/><rect x="352.11" y="335.60" width="7.20" height="7.20" fill="#000" stroke="#000" stroke-width="1.0"/><rect x="354.33" y="335.61" width="7.20" height="7.20" fill="#000" stroke="#000" stroke-width="1.0"/><rect x="356.54" y="335.60" width="7.20" height="7.20" fill="#000" stroke="#000" stroke-width="1.0"/><rect x="358.76" y="335.58" width="7.20" height="7.20" fill="#000" stroke="#000" stroke-width="1.0"/><rect x="360.97" y="335.57" width="7.20" height="7.20" fill="#000" stroke="#000" stroke-width="1.0"/><rect x="363.19" y="335.55" width="7.20" height="7.20" fill="#000" stroke="#000" stroke-width="1.0"/><rect x="365.40" y="335.54" width="7.20" height="7.20" fill="#000" stroke="#000" stroke-width="1.0"/><rect x="367.61" y="335.53" width="7.20" height="7.20" fill="#000" stroke="#000" stroke-width="1.0"/><rect x="369.83" y="335.51" width="7.20" height="7.20" fill="#000" stroke="#000" stroke-width="1.0"/><rect x="372.04" y="335.50" width="7.20" height="7.20" fill="#000" stroke="#000" stroke-width="1.0"/><rect x="374.26" y="335.48" width="7.20" height="7.20" fill="#000" stroke="#000" stroke-width="1.0"/><rect x="376.47" y="335.47" width="7.20" height="7.20" fill="#000" stroke="#000" stroke-width="1.0"/><rect x="378.69" y="335.45" width="7.20" height="7.20" fill="#000" stroke="#000" stroke-width="1.0"/><rect x="380.90" y="335.44" width="7.20" height="7.20" fill="#000" stroke="#000" stroke-width="1.0"/><rect x="383.11" y="335.43" width="7.20" height="7.20" fill="#000" stroke="#000" stroke-width="1.0"/><rect x="385.33" y="335.41" width="7.20" height="7.20" fill="#000" stroke="#000" stroke-width="1.0"/><rect x="387.54" y="335.40" width="7.20" height="7.20" fill="#000" stroke="#000" stroke-width="1.0"/><rect x="389.76" y="335.38" width="7.20" height="7.20" fill="#000" stroke="#000" stroke-width="1.0"/><rect x="391.97" y="335.37" width="7.20" height="7.20" fill="#000" stroke="#000" stroke-width="1.0"/><rect x="394.19" y="335.36" width="7.20" height="7.20" fill="#000" stroke="#000" stroke-width="1.0"/><rect x="396.40" y="335.34" width="7.20" height="7.20" fill="#000" stroke="#000" stroke-width="1.0"/><rect x="398.61" y="335.33" width="7.20" height="7.20" fill="#000" stroke="#000" stroke-width="1.0"/><rect x="400.83" y="335.31" width="7.20" height="7.20" fill="#000" stroke="#000" stroke-width="1.0"/><rect x="403.04" y="335.30" width="7.20" height="7.20" fill="#000" stroke="#000" stroke-width="1.0"/><rect x="405.26" y="335.28" width="7.20" height="7.20" fill="#000" stroke="#000" stroke-width="1.0"/><rect x="407.47" y="335.26" width="7.20" height="7.20" fill="#000" stroke="#000" stroke-width="1.0"/><rect x="409.69" y="335.25" width="7.20" height="7.20" fill="#000" stroke="#000" stroke-width="1.0"/><rect x="411.90" y="335.23" width="7.20" height="7.20" fill="#000" stroke="#000" stroke-width="1.0"/><rect x="414.11" y="335.21" width="7.20" height="7.20" fill="#000" stroke="#000" stroke-width="1.0"/><rect x="416.33" y="335.19" width="7.20" height="7.20" fill="#000" stroke="#000" stroke-width="1.0"/><rect x="418.54" y="335.18" width="7.20" height="7.20" fill="#000" stroke="#000" stroke-width="1.0"/><rect x="420.76" y="335.16" width="7.20" height="7.20" fill="#000" stroke="#000" stroke-width="1.0"/><rect x="422.97" y="335.14" width="7.20" height="7.20" fill="#000" stroke="#000" stroke-width="1.0"/><rect x="425.19" y="335.12" width="7.20" height="7.20" fill="#000" stroke="#000" stroke-width="1.0"/><rect x="427.40" y="335.11" width="7.20" height="7.20" fill="#000" stroke="#000" stroke-width="1.0"/><rect x="429.61" y="335.09" width="7.20" height="7.20" fill="#000" stroke="#000" stroke-width="1.0"/><rect x="431.83" y="335.07" width="7.20" height="7.20" fill="#000" stroke="#000" stroke-width="1.0"/><rect x="434.04" y="335.05" width="7.20" height="7.20" fill="#000" stroke="#000" stroke-width="1.0"/><rect x="436.26" y="335.04" width="7.20" height="7.20" fill="#000" stroke="#000" stroke-width="1.0"/><rect x="438.47" y="335.02" width="7.20" height="7.20" fill="#000" stroke="#000" stroke-width="1.0"/><rect x="440.69" y="335.00" width="7.20" height="7.20" fill="#000" stroke="#000" stroke-width="1.0"/><rect x="442.90" y="334.98" width="7.20" height="7.20" fill="#000" stroke="#000" stroke-width="1.0"/><rect x="445.11" y="334.97" width="7.20" height="7.20" fill="#000" stroke="#000" stroke-width="1.0"/><rect x="447.33" y="334.95" width="7.20" height="7.20" fill="#000" stroke="#000" stroke-width="1.0"/><rect x="449.54" y="334.93" width="7.20" height="7.20" fill="#000" stroke="#000" stroke-width="1.0"/><rect x="451.76" y="334.91" width="7.20" height="7.20" fill="#000" stroke="#000" stroke-width="1.0"/><rect x="453.97" y="334.90" width="7.20" height="7.20" fill="#000" stroke="#000" stroke-width="1.0"/><rect x="456.19" y="334.88" width="7.20" height="7.20" fill="#000" stroke="#000" stroke-width="1.0"/><rect x="458.40" y="334.86" width="7.20" height="7.20" fill="#000" stroke="#000" stroke-width="1.0"/><rect x="460.61" y="334.84" width="7.20" height="7.20" fill="#000" stroke="#000" stroke-width="1.0"/><rect x="462.83" y="334.83" width="7.20" height="7.20" fill="#000" stroke="#000" stroke-width="1.0"/><rect x="465.04" y="334.81" width="7.20" height="7.20" fill="#000" stroke="#000" stroke-width="1.0"/><rect x="467.26" y="334.79" width="7.20" height="7.20" fill="#000" stroke="#000" stroke-width="1.0"/><rect x="469.47" y="334.77" width="7.20" height="7.20" fill="#000" stroke="#000" stroke-width="1.0"/><rect x="471.69" y="334.76" width="7.20" height="7.20" fill="#000" stroke="#000" stroke-width="1.0"/><rect x="473.90" y="334.74" width="7.20" height="7.20" fill="#000" stroke="#000" stroke-width="1.0"/><rect x="476.11" y="334.72" width="7.20" height="7.20" fill="#000" stroke="#000" stroke-width="1.0"/><rect x="478.33" y="334.70" width="7.20" height="7.20" fill="#000" stroke="#000" stroke-width="1.0"/><rect x="480.54" y="334.69" width="7.20" height="7.20" fill="#000" stroke="#000" stroke-width="1.0"/><rect x="482.76" y="334.67" width="7.20" height="7.20" fill="#000" stroke="#000" stroke-width="1.0"/><rect x="484.97" y="334.65" width="7.20" height="7.20" fill="#000" stroke="#000" stroke-width="1.0"/><rect x="487.19" y="334.63" width="7.20" height="7.20" fill="#000" stroke="#000" stroke-width="1.0"/><rect x="489.40" y="334.61" width="7.20" height="7.20" fill="#000" stroke="#000" stroke-width="1.0"/><rect x="491.61" y="334.60" width="7.20" height="7.20" fill="#000" stroke="#000" stroke-width="1.0"/><rect x="493.83" y="334.58" width="7.20" height="7.20" fill="#000" stroke="#000" stroke-width="1.0"/><rect x="496.04" y="334.56" width="7.20" height="7.20" fill="#000" stroke="#000" stroke-width="1.0"/><rect x="498.26" y="334.54" width="7.20" height="7.20" fill="#000" stroke="#000" stroke-width="1.0"/><rect x="500.47" y="334.53" width="7.20" height="7.20" fill="#000" stroke="#000" stroke-width="1.0"/><rect x="502.69" y="334.51" width="7.20" height="7.20" fill="#000" stroke="#000" stroke-width="1.0"/><rect x="504.90" y="334.49" width="7.20" height="7.20" fill="#000" stroke="#000" stroke-width="1.0"/><rect x="507.11" y="334.47" width="7.20" height="7.20" fill="#000" stroke="#000" stroke-width="1.0"/><rect x="509.33" y="334.44" width="7.20" height="7.20" fill="#000" stroke="#000" stroke-width="1.0"/><rect x="511.54" y="334.42" width="7.20" height="7.20" fill="#000" stroke="#000" stroke-width="1.0"/><rect x="513.76" y="334.39" width="7.20" height="7.20" fill="#000" stroke="#000" stroke-width="1.0"/><rect x="515.97" y="334.37" width="7.20" height="7.20" fill="#000" stroke="#000" stroke-width="1.0"/><rect x="518.19" y="334.34" width="7.20" height="7.20" fill="#000" stroke="#000" stroke-width="1.0"/><rect x="520.40" y="334.32" width="7.20" height="7.20" fill="#000" stroke="#000" stroke-width="1.0"/><rect x="522.61" y="334.29" width="7.20" height="7.20" fill="#000" stroke="#000" stroke-width="1.0"/><rect x="524.83" y="334.27" width="7.20" height="7.20" fill="#000" stroke="#000" stroke-width="1.0"/><rect x="527.04" y="334.24" width="7.20" height="7.20" fill="#000" stroke="#000" stroke-width="1.0"/><rect x="529.26" y="334.22" width="7.20" height="7.20" fill="#000" stroke="#000" stroke-width="1.0"/><rect x="531.47" y="334.19" width="7.20" height="7.20" fill="#000" stroke="#000" stroke-width="1.0"/><rect x="533.69" y="334.17" width="7.20" height="7.20" fill="#000" stroke="#000" stroke-width="1.0"/><rect x="535.90" y="334.14" width="7.20" height="7.20" fill="#000" stroke="#000" stroke-width="1.0"/></g>
<g><polyline points="74.50,264.85 76.71,249.73 78.93,245.48 81.14,249.71 83.36,263.22 85.57,283.33 87.79,301.05 90.00,316.93 92.21,328.31 94.43,333.61 96.64,336.06 98.86,336.73 101.07,337.00 103.29,336.43 105.50,335.85 107.71,335.17 109.93,334.48 112.14,333.77 114.36,333.05 116.57,332.34 118.79,331.62 121.00,330.91 123.21,330.16 125.43,329.38 127.64,328.31 129.86,327.14 132.07,326.32 134.29,325.54 136.50,324.86 138.71,324.23 140.93,323.79 143.14,323.37 145.36,322.98 147.57,322.66 149.79,322.41 152.00,322.23 154.21,322.08 156.43,322.01 158.64,321.97 160.86,321.96 163.07,321.97 165.29,322.07 167.50,322.19 169.71,322.34 171.93,322.52 174.14,322.72 176.36,323.04 178.57,323.39 180.79,323.79 183.00,324.21 185.21,324.67 187.43,325.13 189.64,325.59 191.86,325.97 194.07,326.36 196.29,326.74 198.50,327.16 200.71,327.65 202.93,328.14 205.14,328.62 207.36,329.08 209.57,329.54 211.79,329.97 214.00,330.37 216.21,330.77 218.43,331.17 220.64,331.59 222.86,332.00 225.07,332.41 227.29,332.77 229.50,333.07 231.71,333.37 233.93,333.67 236.14,333.98 238.36,334.28 240.57,334.56 242.79,334.85 245.00,335.14 247.21,335.42 249.43,335.71 251.64,335.93 253.86,336.14 256.07,336.35 258.29,336.56 260.50,336.76 262.71,336.97 264.93,337.12 267.14,337.26 269.36,337.41 271.57,337.55 273.79,337.70 276.00,337.84 278.21,337.97 280.43,338.08 282.64,338.18 284.86,338.28 287.07,338.38 289.29,338.48 291.50,338.58 293.71,338.68 295.93,338.78 298.14,338.86 300.36,338.92 302.57,338.97 304.79,339.02 307.00,339.06 309.21,339.10 311.43,339.14 313.64,339.18 315.86,339.22 318.07,339.26 320.29,339.30 322.50,339.34 324.71,339.38 326.93,339.42 329.14,339.46 331.36,339.48 333.57,339.49 335.79,339.51 338.00,339.53 340.21,339.54 342.43,339.56 344.64,339.58 346.86,339.59 349.07,339.61 351.29,339.60 353.50,339.59 355.71,339.57 357.93,339.55 360.14,339.53 362.36,339.51 364.57,339.49 366.79,339.47 369.00,339.46 371.21,339.44 373.43,339.42 375.64,339.40 377.86,339.38 380.07,339.36 382.29,339.34 384.50,339.32 386.71,339.30 388.93,339.28 391.14,339.26 393.36,339.24 395.57,339.23 397.79,339.21 400.00,339.19 402.21,339.17 404.43,339.15 406.64,339.12 408.86,339.10 411.07,339.08 413.29,339.06 415.50,339.04 417.71,339.02 419.93,339.00 422.14,338.98 424.36,338.96 426.57,338.94 428.79,338.91 431.00,338.89 433.21,338.87 435.43,338.85 437.64,338.83 439.86,338.81 442.07,338.79 444.29,338.77 446.50,338.75 448.71,338.73 450.93,338.70 453.14,338.68 455.36,338.66 457.57,338.64 459.79,338.62 462.00,338.60 464.21,338.58 466.43,338.56 468.64,338.54 470.86,338.51 473.07,338.49 475.29,338.47 477.50,338.45 479.71,338.43 481.93,338.41 484.14,338.39 486.36,338.37 488.57,338.35 490.79,338.33 493.00,338.30 495.21,338.28 497.43,338.26 499.64,338.24 501.86,338.22 504.07,338.19 506.29,338.17 508.50,338.14 510.71,338.12 512.93,338.09 515.14,338.07 517.36,338.04 519.57,338.02 521.79,337.99 524.00,337.96 526.21,337.94 528.43,337.91 530.64,337.89 532.86,337.86 535.07,337.84 537.29,337.81 539.50,337.79" fill="none" stroke="#444" stroke-width="1"/><rect x="70.90" y="261.25" width="7.20" height="7.20" fill="#fff" stroke="#000" stroke-width="1.25"/><rect x="73.11" y="246.13" width="7.20" height="7.20" fill="#fff" stroke="#000" stroke-width="1.25"/><rect x="75.33" y="241.88" width="7.20" height="7.20" fill="#fff" stroke="#000" stroke-width="1.25"/><rect x="77.54" y="246.11" width="7.20" height="7.20" fill="#fff" stroke="#000" stroke-width="1.25"/><rect x="79.76" y="259.62" width="7.20" height="7.20" fill="#fff" stroke="#000" stroke-width="1.25"/><rect x="81.97" y="279.73" width="7.20" height="7.20" fill="#fff" stroke="#000" stroke-width="1.25"/><rect x="84.19" y="297.45" width="7.20" height="7.20" fill="#fff" stroke="#000" stroke-width="1.25"/><rect x="86.40" y="313.33" width="7.20" height="7.20" fill="#fff" stroke="#000" stroke-width="1.25"/><rect x="88.61" y="324.71" width="7.20" height="7.20" fill="#fff" stroke="#000" stroke-width="1.25"/><rect x="90.83" y="330.01" width="7.20" height="7.20" fill="#fff" stroke="#000" stroke-width="1.25"/><rect x="93.04" y="332.46" width="7.20" height="7.20" fill="#fff" stroke="#000" stroke-width="1.25"/><rect x="95.26" y="333.13" width="7.20" height="7.20" fill="#fff" stroke="#000" stroke-width="1.25"/><rect x="97.47" y="333.40" width="7.20" height="7.20" fill="#fff" stroke="#000" stroke-width="1.25"/><rect x="99.69" y="332.83" width="7.20" height="7.20" fill="#fff" stroke="#000" stroke-width="1.25"/><rect x="101.90" y="332.25" width="7.20" height="7.20" fill="#fff" stroke="#000" stroke-width="1.25"/><rect x="104.11" y="331.57" width="7.20" height="7.20" fill="#fff" stroke="#000" stroke-width="1.25"/><rect x="106.33" y="330.88" width="7.20" height="7.20" fill="#fff" stroke="#000" stroke-width="1.25"/><rect x="108.54" y="330.17" width="7.20" height="7.20" fill="#fff" stroke="#000" stroke-width="1.25"/><rect x="110.76" y="329.45" width="7.20" height="7.20" fill="#fff" stroke="#000" stroke-width="1.25"/><rect x="112.97" y="328.74" width="7.20" height="7.20" fill="#fff" stroke="#000" stroke-width="1.25"/><rect x="115.19" y="328.02" width="7.20" height="7.20" fill="#fff" stroke="#000" stroke-width="1.25"/><rect x="117.40" y="327.31" width="7.20" height="7.20" fill="#fff" stroke="#000" stroke-width="1.25"/><rect x="119.61" y="326.56" width="7.20" height="7.20" fill="#fff" stroke="#000" stroke-width="1.25"/><rect x="121.83" y="325.78" width="7.20" height="7.20" fill="#fff" stroke="#000" stroke-width="1.25"/><rect x="124.04" y="324.71" width="7.20" height="7.20" fill="#fff" stroke="#000" stroke-width="1.25"/><rect x="126.26" y="323.54" width="7.20" height="7.20" fill="#fff" stroke="#000" stroke-width="1.25"/><rect x="128.47" y="322.72" width="7.20" height="7.20" fill="#fff" stroke="#000" stroke-width="1.25"/><rect x="130.69" y="321.94" width="7.20" height="7.20" fill="#fff" stroke="#000" stroke-width="1.25"/><rect x="132.90" y="321.26" width="7.20" height="7.20" fill="#fff" stroke="#000" stroke-width="1.25"/><rect x="135.11" y="320.63" width="7.20" height="7.20" fill="#fff" stroke="#000" stroke-width="1.25"/><rect x="137.33" y="320.19" width="7.20" height="7.20" fill="#fff" stroke="#000" stroke-width="1.25"/><rect x="139.54" y="319.77" width="7.20" height="7.20" fill="#fff" stroke="#000" stroke-width="1.25"/><rect x="141.76" y="319.38" width="7.20" height="7.20" fill="#fff" stroke="#000" stroke-width="1.25"/><rect x="143.97" y="319.06" width="7.20" height="7.20" fill="#fff" stroke="#000" stroke-width="1.25"/><rect x="146.19" y="318.81" width="7.20" height="7.20" fill="#fff" stroke="#000" stroke-width="1.25"/><rect x="148.40" y="318.63" width="7.20" height="7.20" fill="#fff" stroke="#000" stroke-width="1.25"/><rect x="150.61" y="318.48" width="7.20" height="7.20" fill="#fff" stroke="#000" stroke-width="1.25"/><rect x="152.83" y="318.41" width="7.20" height="7.20" fill="#fff" stroke="#000" stroke-width="1.25"/><rect x="155.04" y="318.37" width="7.20" height="7.20" fill="#fff" stroke="#000" stroke-width="1.25"/><rect x="157.26" y="318.36" width="7.20" height="7.20" fill="#fff" stroke="#000" stroke-width="1.25"/><rect x="159.47" y="318.37" width="7.20" height="7.20" fill="#fff" stroke="#000" stroke-width="1.25"/><rect x="161.69" y="318.47" width="7.20" height="7.20" fill="#fff" stroke="#000" stroke-width="1.25"/><rect x="163.90" y="318.59" width="7.20" height="7.20" fill="#fff" stroke="#000" stroke-width="1.25"/><rect x="166.11" y="318.74" width="7.20" height="7.20" fill="#fff" stroke="#000" stroke-width="1.25"/><rect x="168.33" y="318.92" width="7.20" height="7.20" fill="#fff" stroke="#000" stroke-width="1.25"/><rect x="170.54" y="319.12" width="7.20" height="7.20" fill="#fff" stroke="#000" stroke-width="1.25"/><rect x="172.76" y="319.44" width="7.20" height="7.20" fill="#fff" stroke="#000" stroke-width="1.25"/><rect x="174.97" y="319.79" width="7.20" height="7.20" fill="#fff" stroke="#000" stroke-width="1.25"/><rect x="177.19" y="320.19" width="7.20" height="7.20" fill="#fff" stroke="#000" stroke-width="1.25"/><rect x="179.40" y="320.61" width="7.20" height="7.20" fill="#fff" stroke="#000" stroke-width="1.25"/><rect x="181.61" y="321.07" width="7.20" height="7.20" fill="#fff" stroke="#000" stroke-width="1.25"/><rect x="183.83" y="321.53" width="7.20" height="7.20" fill="#fff" stroke="#000" stroke-width="1.25"/><rect x="186.04" y="321.99" width="7.20" height="7.20" fill="#fff" stroke="#000" stroke-width="1.25"/><rect x="188.26" y="322.37" width="7.20" height="7.20" fill="#fff" stroke="#000" stroke-width="1.25"/><rect x="190.47" y="322.76" width="7.20" height="7.20" fill="#fff" stroke="#000" stroke-width="1.25"/><rect x="192.69" y="323.14" width="7.20" height="7.20" fill="#fff" stroke="#000" stroke-width="1.25"/><rect x="194.90" y="323.56" width="7.20" height="7.20" fill="#fff" stroke="#000" stroke-width="1.25"/><rect x="197.11" y="324.05" width="7.20" height="7.20" fill="#fff" stroke="#000" stroke-width="1.25"/><rect x="199.33" y="324.54" width="7.20" height="7.20" fill="#fff" stroke="#000" stroke-width="1.25"/><rect x="201.54" y="325.02" width="7.20" height="7.20" fill="#fff" stroke="#000" stroke-width="1.25"/><rect x="203.76" y="325.48" width="7.20" height="7.20" fill="#fff" stroke="#000" stroke-width="1.25"/><rect x="205.97" y="325.94" width="7.20" height="7.20" fill="#fff" stroke="#000" stroke-width="1.25"/><rect x="208.19" y="326.37" width="7.20" height="7.20" fill="#fff" stroke="#000" stroke-width="1.25"/><rect x="210.40" y="326.77" width="7.20" height="7.20" fill="#fff" stroke="#000" stroke-width="1.25"/><rect x="212.61" y="327.17" width="7.20" height="7.20" fill="#fff" stroke="#000" stroke-width="1.25"/><rect x="214.83" y="327.57" width="7.20" height="7.20" fill="#fff" stroke="#000" stroke-width="1.25"/><rect x="217.04" y="327.99" width="7.20" height="7.20" fill="#fff" stroke="#000" stroke-width="1.25"/><rect x="219.26" y="328.40" width="7.20" height="7.20" fill="#fff" stroke="#000" stroke-width="1.25"/><rect x="221.47" y="328.81" width="7.20" height="7.20" fill="#fff" stroke="#000" stroke-width="1.25"/><rect x="223.69" y="329.17" width="7.20" height="7.20" fill="#fff" stroke="#000" stroke-width="1.25"/><rect x="225.90" y="329.47" width="7.20" height="7.20" fill="#fff" stroke="#000" stroke-width="1.25"/><rect x="228.11" y="329.77" width="7.20" height="7.20" fill="#fff" stroke="#000" stroke-width="1.25"/><rect x="230.33" y="330.07" width="7.20" height="7.20" fill="#fff" stroke="#000" stroke-width="1.25"/><rect x="232.54" y="330.38" width="7.20" height="7.20" fill="#fff" stroke="#000" stroke-width="1.25"/><rect x="234.76" y="330.68" width="7.20" height="7.20" fill="#fff" stroke="#000" stroke-width="1.25"/><rect x="236.97" y="330.96" width="7.20" height="7.20" fill="#fff" stroke="#000" stroke-width="1.25"/><rect x="239.19" y="331.25" width="7.20" height="7.20" fill="#fff" stroke="#000" stroke-width="1.25"/><rect x="241.40" y="331.54" width="7.20" height="7.20" fill="#fff" stroke="#000" stroke-width="1.25"/><rect x="243.61" y="331.82" width="7.20" height="7.20" fill="#fff" stroke="#000" stroke-width="1.25"/><rect x="245.83" y="332.11" width="7.20" height="7.20" fill="#fff" stroke="#000" stroke-width="1.25"/><rect x="248.04" y="332.33" width="7.20" height="7.20" fill="#fff" stroke="#000" stroke-width="1.25"/><rect x="250.26" y="332.54" width="7.20" height="7.20" fill="#fff" stroke="#000" stroke-width="1.25"/><rect x="252.47" y="332.75" width="7.20" height="7.20" fill="#fff" stroke="#000" stroke-width="1.25"/><rect x="254.69" y="332.96" width="7.20" height="7.20" fill="#fff" stroke="#000" stroke-width="1.25"/><rect x="256.90" y="333.16" width="7.20" height="7.20" fill="#fff" stroke="#000" stroke-width="1.25"/><rect x="259.11" y="333.37" width="7.20" height="7.20" fill="#fff" stroke="#000" stroke-width="1.25"/><rect x="261.33" y="333.52" width="7.20" height="7.20" fill="#fff" stroke="#000" stroke-width="1.25"/><rect x="263.54" y="333.66" width="7.20" height="7.20" fill="#fff" stroke="#000" stroke-width="1.25"/><rect x="265.76" y="333.81" width="7.20" height="7.20" fill="#fff" stroke="#000" stroke-width="1.25"/><rect x="267.97" y="333.95" width="7.20" height="7.20" fill="#fff" stroke="#000" stroke-width="1.25"/><rect x="270.19" y="334.10" width="7.20" height="7.20" fill="#fff" stroke="#000" stroke-width="1.25"/><rect x="272.40" y="334.24" width="7.20" height="7.20" fill="#fff" stroke="#000" stroke-width="1.25"/><rect x="274.61" y="334.37" width="7.20" height="7.20" fill="#fff" stroke="#000" stroke-width="1.25"/><rect x="276.83" y="334.48" width="7.20" height="7.20" fill="#fff" stroke="#000" stroke-width="1.25"/><rect x="279.04" y="334.58" width="7.20" height="7.20" fill="#fff" stroke="#000" stroke-width="1.25"/><rect x="281.26" y="334.68" width="7.20" height="7.20" fill="#fff" stroke="#000" stroke-width="1.25"/><rect x="283.47" y="334.78" width="7.20" height="7.20" fill="#fff" stroke="#000" stroke-width="1.25"/><rect x="285.69" y="334.88" width="7.20" height="7.20" fill="#fff" stroke="#000" stroke-width="1.25"/><rect x="287.90" y="334.98" width="7.20" height="7.20" fill="#fff" stroke="#000" stroke-width="1.25"/><rect x="290.11" y="335.08" width="7.20" height="7.20" fill="#fff" stroke="#000" stroke-width="1.25"/><rect x="292.33" y="335.18" width="7.20" height="7.20" fill="#fff" stroke="#000" stroke-width="1.25"/><rect x="294.54" y="335.26" width="7.20" height="7.20" fill="#fff" stroke="#000" stroke-width="1.25"/><rect x="296.76" y="335.32" width="7.20" height="7.20" fill="#fff" stroke="#000" stroke-width="1.25"/><rect x="298.97" y="335.37" width="7.20" height="7.20" fill="#fff" stroke="#000" stroke-width="1.25"/><rect x="301.19" y="335.42" width="7.20" height="7.20" fill="#fff" stroke="#000" stroke-width="1.25"/><rect x="303.40" y="335.46" width="7.20" height="7.20" fill="#fff" stroke="#000" stroke-width="1.25"/><rect x="305.61" y="335.50" width="7.20" height="7.20" fill="#fff" stroke="#000" stroke-width="1.25"/><rect x="307.83" y="335.54" width="7.20" height="7.20" fill="#fff" stroke="#000" stroke-width="1.25"/><rect x="310.04" y="335.58" width="7.20" height="7.20" fill="#fff" stroke="#000" stroke-width="1.25"/><rect x="312.26" y="335.62" width="7.20" height="7.20" fill="#fff" stroke="#000" stroke-width="1.25"/><rect x="314.47" y="335.66" width="7.20" height="7.20" fill="#fff" stroke="#000" stroke-width="1.25"/><rect x="316.69" y="335.70" width="7.20" height="7.20" fill="#fff" stroke="#000" stroke-width="1.25"/><rect x="318.90" y="335.74" width="7.20" height="7.20" fill="#fff" stroke="#000" stroke-width="1.25"/><rect x="321.11" y="335.78" width="7.20" height="7.20" fill="#fff" stroke="#000" stroke-width="1.25"/><rect x="323.33" y="335.82" width="7.20" height="7.20" fill="#fff" stroke="#000" stroke-width="1.25"/><rect x="325.54" y="335.86" width="7.20" height="7.20" fill="#fff" stroke="#000" stroke-width="1.25"/><rect x="327.76" y="335.88" width="7.20" height="7.20" fill="#fff" stroke="#000" stroke-width="1.25"/><rect x="329.97" y="335.89" width="7.20" height="7.20" fill="#fff" stroke="#000" stroke-width="1.25"/><rect x="332.19" y="335.91" width="7.20" height="7.20" fill="#fff" stroke="#000" stroke-width="1.25"/><rect x="334.40" y="335.93" width="7.20" height="7.20" fill="#fff" stroke="#000" stroke-width="1.25"/><rect x="336.61" y="335.94" width="7.20" height="7.20" fill="#fff" stroke="#000" stroke-width="1.25"/><rect x="338.83" y="335.96" width="7.20" height="7.20" fill="#fff" stroke="#000" stroke-width="1.25"/><rect x="341.04" y="335.98" width="7.20" height="7.20" fill="#fff" stroke="#000" stroke-width="1.25"/><rect x="343.26" y="335.99" width="7.20" height="7.20" fill="#fff" stroke="#000" stroke-width="1.25"/><rect x="345.47" y="336.01" width="7.20" height="7.20" fill="#fff" stroke="#000" stroke-width="1.25"/><rect x="347.69" y="336.00" width="7.20" height="7.20" fill="#fff" stroke="#000" stroke-width="1.25"/><rect x="349.90" y="335.99" width="7.20" height="7.20" fill="#fff" stroke="#000" stroke-width="1.25"/><rect x="352.11" y="335.97" width="7.20" height="7.20" fill="#fff" stroke="#000" stroke-width="1.25"/><rect x="354.33" y="335.95" width="7.20" height="7.20" fill="#fff" stroke="#000" stroke-width="1.25"/><rect x="356.54" y="335.93" width="7.20" height="7.20" fill="#fff" stroke="#000" stroke-width="1.25"/><rect x="358.76" y="335.91" width="7.20" height="7.20" fill="#fff" stroke="#000" stroke-width="1.25"/><rect x="360.97" y="335.89" width="7.20" height="7.20" fill="#fff" stroke="#000" stroke-width="1.25"/><rect x="363.19" y="335.87" width="7.20" height="7.20" fill="#fff" stroke="#000" stroke-width="1.25"/><rect x="365.40" y="335.86" width="7.20" height="7.20" fill="#fff" stroke="#000" stroke-width="1.25"/><rect x="367.61" y="335.84" width="7.20" height="7.20" fill="#fff" stroke="#000" stroke-width="1.25"/><rect x="369.83" y="335.82" width="7.20" height="7.20" fill="#fff" stroke="#000" stroke-width="1.25"/><rect x="372.04" y="335.80" width="7.20" height="7.20" fill="#fff" stroke="#000" stroke-width="1.25"/><rect x="374.26" y="335.78" width="7.20" height="7.20" fill="#fff" stroke="#000" stroke-width="1.25"/><rect x="376.47" y="335.76" width="7.20" height="7.20" fill="#fff" stroke="#000" stroke-width="1.25"/><rect x="378.69" y="335.74" width="7.20" height="7.20" fill="#fff" stroke="#000" stroke-width="1.25"/><rect x="380.90" y="335.72" width="7.20" height="7.20" fill="#fff" stroke="#000" stroke-width="1.25"/><rect x="383.11" y="335.70" width="7.20" height="7.20" fill="#fff" stroke="#000" stroke-width="1.25"/><rect x="385.33" y="335.68" width="7.20" height="7.20" fill="#fff" stroke="#000" stroke-width="1.25"/><rect x="387.54" y="335.66" width="7.20" height="7.20" fill="#fff" stroke="#000" stroke-width="1.25"/><rect x="389.76" y="335.64" width="7.20" height="7.20" fill="#fff" stroke="#000" stroke-width="1.25"/><rect x="391.97" y="335.63" width="7.20" height="7.20" fill="#fff" stroke="#000" stroke-width="1.25"/><rect x="394.19" y="335.61" width="7.20" height="7.20" fill="#fff" stroke="#000" stroke-width="1.25"/><rect x="396.40" y="335.59" width="7.20" height="7.20" fill="#fff" stroke="#000" stroke-width="1.25"/><rect x="398.61" y="335.57" width="7.20" height="7.20" fill="#fff" stroke="#000" stroke-width="1.25"/><rect x="400.83" y="335.55" width="7.20" height="7.20" fill="#fff" stroke="#000" stroke-width="1.25"/><rect x="403.04" y="335.52" width="7.20" height="7.20" fill="#fff" stroke="#000" stroke-width="1.25"/><rect x="405.26" y="335.50" width="7.20" height="7.20" fill="#fff" stroke="#000" stroke-width="1.25"/><rect x="407.47" y="335.48" width="7.20" height="7.20" fill="#fff" stroke="#000" stroke-width="1.25"/><rect x="409.69" y="335.46" width="7.20" height="7.20" fill="#fff" stroke="#000" stroke-width="1.25"/><rect x="411.90" y="335.44" width="7.20" height="7.20" fill="#fff" stroke="#000" stroke-width="1.25"/><rect x="414.11" y="335.42" width="7.20" height="7.20" fill="#fff" stroke="#000" stroke-width="1.25"/><rect x="416.33" y="335.40" width="7.20" height="7.20" fill="#fff" stroke="#000" stroke-width="1.25"/><rect x="418.54" y="335.38" width="7.20" height="7.20" fill="#fff" stroke="#000" stroke-width="1.25"/><rect x="420.76" y="335.36" width="7.20" height="7.20" fill="#fff" stroke="#000" stroke-width="1.25"/><rect x="422.97" y="335.34" width="7.20" height="7.20" fill="#fff" stroke="#000" stroke-width="1.25"/><rect x="425.19" y="335.31" width="7.20" height="7.20" fill="#fff" stroke="#000" stroke-width="1.25"/><rect x="427.40" y="335.29" width="7.20" height="7.20" fill="#fff" stroke="#000" stroke-width="1.25"/><rect x="429.61" y="335.27" width="7.20" height="7.20" fill="#fff" stroke="#000" stroke-width="1.25"/><rect x="431.83" y="335.25" width="7.20" height="7.20" fill="#fff" stroke="#000" stroke-width="1.25"/><rect x="434.04" y="335.23" width="7.20" height="7.20" fill="#fff" stroke="#000" stroke-width="1.25"/><rect x="436.26" y="335.21" width="7.20" height="7.20" fill="#fff" stroke="#000" stroke-width="1.25"/><rect x="438.47" y="335.19" width="7.20" height="7.20" fill="#fff" stroke="#000" stroke-width="1.25"/><rect x="440.69" y="335.17" width="7.20" height="7.20" fill="#fff" stroke="#000" stroke-width="1.25"/><rect x="442.90" y="335.15" width="7.20" height="7.20" fill="#fff" stroke="#000" stroke-width="1.25"/><rect x="445.11" y="335.13" width="7.20" height="7.20" fill="#fff" stroke="#000" stroke-width="1.25"/><rect x="447.33" y="335.10" width="7.20" height="7.20" fill="#fff" stroke="#000" stroke-width="1.25"/><rect x="449.54" y="335.08" width="7.20" height="7.20" fill="#fff" stroke="#000" stroke-width="1.25"/><rect x="451.76" y="335.06" width="7.20" height="7.20" fill="#fff" stroke="#000" stroke-width="1.25"/><rect x="453.97" y="335.04" width="7.20" height="7.20" fill="#fff" stroke="#000" stroke-width="1.25"/><rect x="456.19" y="335.02" width="7.20" height="7.20" fill="#fff" stroke="#000" stroke-width="1.25"/><rect x="458.40" y="335.00" width="7.20" height="7.20" fill="#fff" stroke="#000" stroke-width="1.25"/><rect x="460.61" y="334.98" width="7.20" height="7.20" fill="#fff" stroke="#000" stroke-width="1.25"/><rect x="462.83" y="334.96" width="7.20" height="7.20" fill="#fff" stroke="#000" stroke-width="1.25"/><rect x="465.04" y="334.94" width="7.20" height="7.20" fill="#fff" stroke="#000" stroke-width="1.25"/><rect x="467.26" y="334.91" width="7.20" height="7.20" fill="#fff" stroke="#000" stroke-width="1.25"/><rect x="469.47" y="334.89" width="7.20" height="7.20" fill="#fff" stroke="#000" stroke-width="1.25"/><rect x="471.69" y="334.87" width="7.20" height="7.20" fill="#fff" stroke="#000" stroke-width="1.25"/><rect x="473.90" y="334.85" width="7.20" height="7.20" fill="#fff" stroke="#000" stroke-width="1.25"/><rect x="476.11" y="334.83" width="7.20" height="7.20" fill="#fff" stroke="#000" stroke-width="1.25"/><rect x="478.33" y="334.81" width="7.20" height="7.20" fill="#fff" stroke="#000" stroke-width="1.25"/><rect x="480.54" y="334.79" width="7.20" height="7.20" fill="#fff" stroke="#000" stroke-width="1.25"/><rect x="482.76" y="334.77" width="7.20" height="7.20" fill="#fff" stroke="#000" stroke-width="1.25"/><rect x="484.97" y="334.75" width="7.20" height="7.20" fill="#fff" stroke="#000" stroke-width="1.25"/><rect x="487.19" y="334.73" width="7.20" height="7.20" fill="#fff" stroke="#000" stroke-width="1.25"/><rect x="489.40" y="334.70" width="7.20" height="7.20" fill="#fff" stroke="#000" stroke-width="1.25"/><rect x="491.61" y="334.68" width="7.20" height="7.20" fill="#fff" stroke="#000" stroke-width="1.25"/><rect x="493.83" y="334.66" width="7.20" height="7.20" fill="#fff" stroke="#000" stroke-width="1.25"/><rect x="496.04" y="334.64" width="7.20" height="7.20" fill="#fff" stroke="#000" stroke-width="1.25"/><rect x="498.26" y="334.62" width="7.20" height="7.20" fill="#fff" stroke="#000" stroke-width="1.25"/><rect x="500.47" y="334.59" width="7.20" height="7.20" fill="#fff" stroke="#000" stroke-width="1.25"/><rect x="502.69" y="334.57" width="7.20" height="7.20" fill="#fff" stroke="#000" stroke-width="1.25"/><rect x="504.90" y="334.54" width="7.20" height="7.20" fill="#fff" stroke="#000" stroke-width="1.25"/><rect x="507.11" y="334.52" width="7.20" height="7.20" fill="#fff" stroke="#000" stroke-width="1.25"/><rect x="509.33" y="334.49" width="7.20" height="7.20" fill="#fff" stroke="#000" stroke-width="1.25"/><rect x="511.54" y="334.47" width="7.20" height="7.20" fill="#fff" stroke="#000" stroke-width="1.25"/><rect x="513.76" y="334.44" width="7.20" height="7.20" fill="#fff" stroke="#000" stroke-width="1.25"/><rect x="515.97" y="334.42" width="7.20" height="7.20" fill="#fff" stroke="#000" stroke-width="1.25"/><rect x="518.19" y="334.39" width="7.20" height="7.20" fill="#fff" stroke="#000" stroke-width="1.25"/><rect x="520.40" y="334.36" width="7.20" height="7.20" fill="#fff" stroke="#000" stroke-width="1.25"/><rect x="522.61" y="334.34" width="7.20" height="7.20" fill="#fff" stroke="#000" stroke-width="1.25"/><rect x="524.83" y="334.31" width="7.20" height="7.20" fill="#fff" stroke="#000" stroke-width="1.25"/><rect x="527.04" y="334.29" width="7.20" height="7.20" fill="#fff" stroke="#000" stroke-width="1.25"/><rect x="529.26" y="334.26" width="7.20" height="7.20" fill="#fff" stroke="#000" stroke-width="1.25"/><rect x="531.47" y="334.24" width="7.20" height="7.20" fill="#fff" stroke="#000" stroke-width="1.25"/><rect x="533.69" y="334.21" width="7.20" height="7.20" fill="#fff" stroke="#000" stroke-width="1.25"/><rect x="535.90" y="334.19" width="7.20" height="7.20" fill="#fff" stroke="#000" stroke-width="1.25"/></g>
<path d="M415 37.00H451" stroke="#5a5a5a" stroke-width="1.9"/>
<circle cx="433.00" cy="37.00" r="4.00" fill="#000" stroke="#000" stroke-width="1.0"/>
<path d="M415 57.90H451" stroke="#5a5a5a" stroke-width="1.9"/>
<circle cx="433.00" cy="57.90" r="4.00" fill="#fff" stroke="#000" stroke-width="1.25"/>
<path d="M415 78.80H451" stroke="#5a5a5a" stroke-width="1.9"/>
<path d="M428.90 76.00L437.10 76.00L433.00 84.00Z" fill="#000" stroke="#000" stroke-width="1.0"/>
<path d="M415 99.70H451" stroke="#5a5a5a" stroke-width="1.9"/>
<path d="M429.00 102.40L437.00 102.40L433.00 95.30Z" fill="#fff" stroke="#000" stroke-width="1.25"/>
<path d="M415 120.60H451" stroke="#5a5a5a" stroke-width="1.9"/>
<rect x="429.40" y="117.00" width="7.20" height="7.20" fill="#000" stroke="#000" stroke-width="1.0"/>
<path d="M415 141.50H451" stroke="#5a5a5a" stroke-width="1.9"/>
<rect x="429.40" y="137.90" width="7.20" height="7.20" fill="#fff" stroke="#000" stroke-width="1.25"/>
<g class="t" font-size="15.3" text-anchor="end">
<text x="485.4" y="42.6" text-anchor="end"><tspan fill="transparent">1</tspan></text>
<text x="499.6" y="42.6" text-anchor="start">M</text>
<text x="485.4" y="63.5" text-anchor="end"><tspan fill="transparent">1</tspan>0</text>
<text x="499.6" y="63.5" text-anchor="start">M</text>
<text x="485.4" y="84.4" text-anchor="end">20</text>
<text x="499.6" y="84.4" text-anchor="start">M</text>
<text x="485.4" y="105.3" text-anchor="end">40</text>
<text x="499.6" y="105.3" text-anchor="start">M</text>
<text x="485.4" y="126.2" text-anchor="end">60</text>
<text x="499.6" y="126.2" text-anchor="start">M</text>
<text x="485.4" y="147.1" text-anchor="end"><tspan fill="transparent">1</tspan>00</text>
<text x="499.6" y="147.1" text-anchor="start">M</text>
</g>
<path d="M895 940V70L1014 45V0H740L732 86Q578 -20 465 -20Q386 -20 332 27V-438H166V940H332V268Q332 96 498 96Q604 96 730 141V940Z" transform="translate(490.70,42.60) scale(0.00811,-0.00698)" fill="#111" stroke="#111" stroke-width="20"/>
<path d="M478 0V1170L140 959V1180L493 1409H759V0Z" transform="translate(476.89,42.60) scale(0.00747,-0.00747)" fill="#111"/>
<path d="M895 940V70L1014 45V0H740L732 86Q578 -20 465 -20Q386 -20 332 27V-438H166V940H332V268Q332 96 498 96Q604 96 730 141V940Z" transform="translate(490.70,63.50) scale(0.00811,-0.00698)" fill="#111" stroke="#111" stroke-width="20"/>
<path d="M478 0V1170L140 959V1180L493 1409H759V0Z" transform="translate(468.38,63.50) scale(0.00747,-0.00747)" fill="#111"/>
<path d="M895 940V70L1014 45V0H740L732 86Q578 -20 465 -20Q386 -20 332 27V-438H166V940H332V268Q332 96 498 96Q604 96 730 141V940Z" transform="translate(490.70,84.40) scale(0.00811,-0.00698)" fill="#111" stroke="#111" stroke-width="20"/>
<path d="M895 940V70L1014 45V0H740L732 86Q578 -20 465 -20Q386 -20 332 27V-438H166V940H332V268Q332 96 498 96Q604 96 730 141V940Z" transform="translate(490.70,105.30) scale(0.00811,-0.00698)" fill="#111" stroke="#111" stroke-width="20"/>
<path d="M895 940V70L1014 45V0H740L732 86Q578 -20 465 -20Q386 -20 332 27V-438H166V940H332V268Q332 96 498 96Q604 96 730 141V940Z" transform="translate(490.70,126.20) scale(0.00811,-0.00698)" fill="#111" stroke="#111" stroke-width="20"/>
<path d="M895 940V70L1014 45V0H740L732 86Q578 -20 465 -20Q386 -20 332 27V-438H166V940H332V268Q332 96 498 96Q604 96 730 141V940Z" transform="translate(490.70,147.10) scale(0.00811,-0.00698)" fill="#111" stroke="#111" stroke-width="20"/>
<path d="M478 0V1170L140 959V1180L493 1409H759V0Z" transform="translate(459.87,147.10) scale(0.00747,-0.00747)" fill="#111"/>
<path d="M478 0V1170L140 959V1180L493 1409H759V0Z" transform="translate(36.14,12.40) scale(0.00757,-0.00757)" fill="#111"/>
</svg>
</body></html>
